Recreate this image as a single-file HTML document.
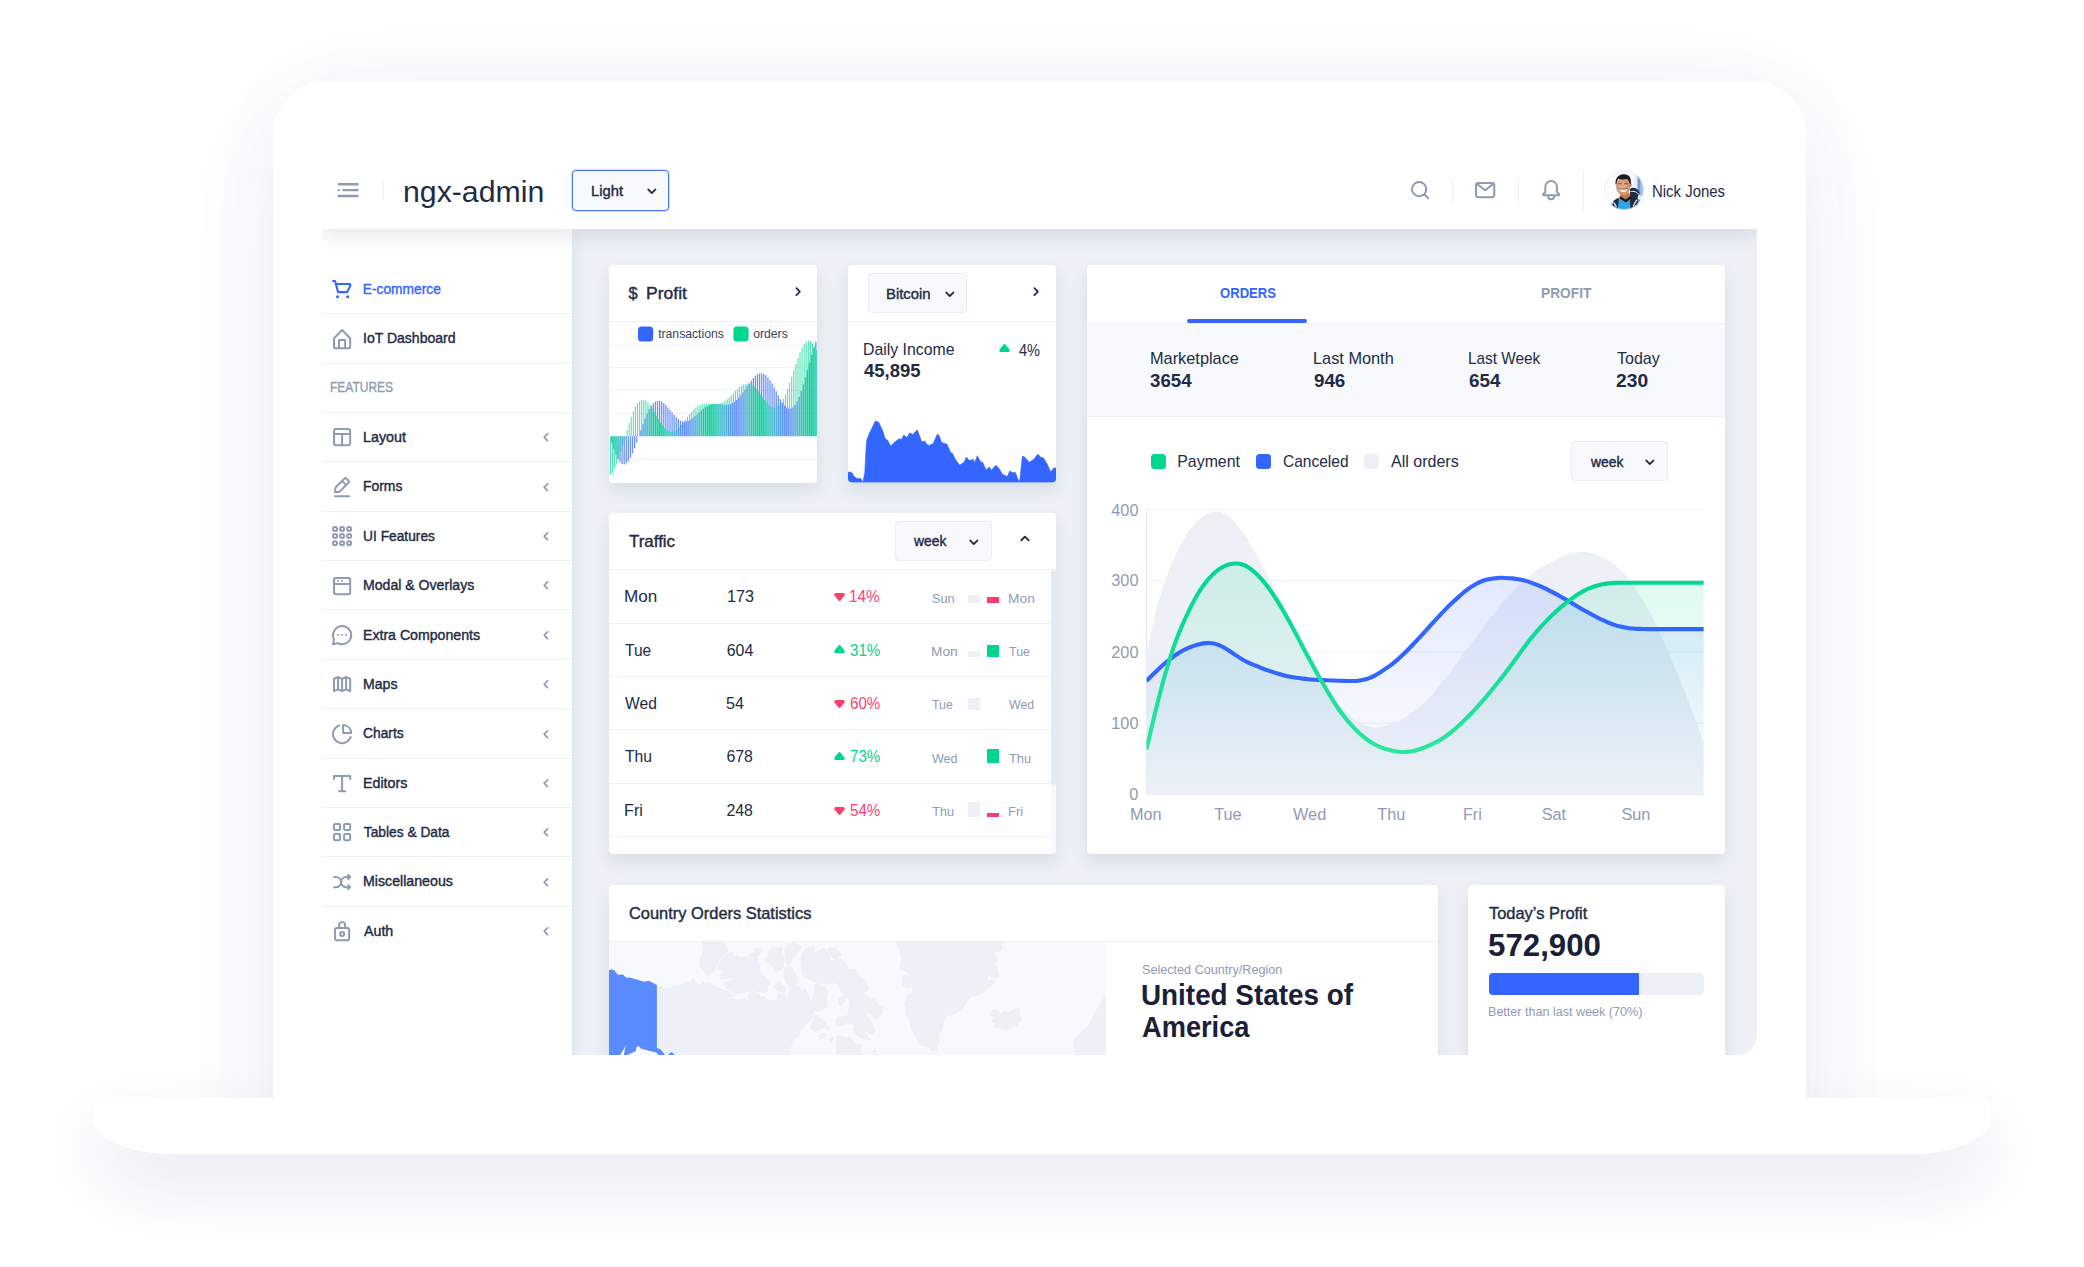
<!DOCTYPE html>
<html lang="en"><head><meta charset="utf-8"><title>ngx-admin</title>
<style>

*{box-sizing:border-box;margin:0;padding:0}
html,body{width:2084px;height:1267px;overflow:hidden;background:#fff}
body{font-family:'Liberation Sans',sans-serif;color:#222b45}
#page{position:relative;width:2084px;height:1267px;overflow:hidden;background:#fff}
#page div,#page span,#page svg{position:absolute}
.t{white-space:pre;line-height:1;font-family:'Liberation Sans',sans-serif;transform-origin:0 0}
#lidw{left:0;top:0;width:2084px;height:1267px;clip-path:inset(0 0 169px 0)}
#lid{left:273px;top:81px;width:1533px;height:1180px;background:#fff;border-radius:54px 54px 0 0;box-shadow:0 0 100px 0 rgba(60,73,138,.052),0 40px 100px 0 rgba(60,73,138,.06)}
#base,#base2{left:94px;top:1098px;width:1896px;height:56px;background:#fff;border-radius:3px 3px 80px 80px / 3px 3px 34px 34px}
#base{box-shadow:0 30px 70px 0 rgba(60,73,138,.134)}
#screen{left:0;top:0;width:2084px;height:1267px;clip-path:inset(140px 327px 212px 322px round 0 0 20px 0)}
#content{left:572px;top:229px;width:1186px;height:830px;background:#edf1f7}
#sidebar{left:322px;top:229px;width:250px;height:830px;background:#fff;box-shadow:0 8px 16px 0 rgba(44,51,73,.1)}
#header{left:322px;top:140px;width:1436px;height:89px;background:#fff;box-shadow:0 8px 16px 0 rgba(44,51,73,.1)}
.card{background:#fff;border-radius:4px;box-shadow:0 8px 16px 0 rgba(44,51,73,.1)}
.hl{height:1px;background:#edf1f7}
.sel{background:#f7f9fc;border:1px solid #e9edf5;border-radius:4px}
.sq{width:15px;height:15px;border-radius:3.5px}

</style></head>
<body>
<div id="page">
<div id="base"></div>
<div id="lidw"><div id="lid"></div></div>
<div id="base2"></div>
<div id="screen">
<div id="content"></div>
<div id="sidebar"></div>
<div class="hl" style="left:322px;top:313px;width:250px"></div>
<svg viewBox="0 0 24 24" width="24.20" height="24.20" style="left:330.30px;top:277.30px;color:#3366ff" fill="currentColor"><path d="M21.08 7a2 2 0 0 0-1.7-1H6.58L6 3.74A1 1 0 0 0 5 3H3a1 1 0 0 0 0 2h1.24L7 15.26A1 1 0 0 0 8 16h9a1 1 0 0 0 .89-.55l3.28-6.56A2 2 0 0 0 21.08 7zm-4.7 7H8.76L7.13 8h12.25z"/><circle cx="7.5" cy="19.5" r="1.5"/><circle cx="17.5" cy="19.5" r="1.5"/></svg>
<div class="hl" style="left:322px;top:363px;width:250px"></div>
<svg viewBox="0 0 24 24" width="24.20" height="24.20" style="left:330.30px;top:326.67px;color:#8f9bb3" fill="currentColor"><path d="M20.42 10.18L12.71 2.3a1 1 0 0 0-1.42 0l-7.71 7.89A2 2 0 0 0 3 11.62V20a2 2 0 0 0 1.89 2h14.22A2 2 0 0 0 21 20v-8.38a2.07 2.07 0 0 0-.58-1.44zM10 20v-6h4v6zm9 0h-3v-7a1 1 0 0 0-1-1H9a1 1 0 0 0-1 1v7H5v-8.42l7-7.15 7 7.19z"/></svg>
<div class="hl" style="left:322px;top:412px;width:250px"></div>
<div class="hl" style="left:322px;top:461px;width:250px"></div>
<svg viewBox="0 0 24 24" width="24.20" height="24.20" style="left:330.30px;top:425.41px;color:#8f9bb3" fill="currentColor"><path d="M18 3H6a3 3 0 0 0-3 3v12a3 3 0 0 0 3 3h12a3 3 0 0 0 3-3V6a3 3 0 0 0-3-3zM6 5h12a1 1 0 0 1 1 1v2H5V6a1 1 0 0 1 1-1zM5 18v-8h6v9H6a1 1 0 0 1-1-1zm13 1h-5v-9h6v8a1 1 0 0 1-1 1z"/></svg>
<svg viewBox="0 0 24 24" width="20.50" height="20.50" style="left:536.15px;top:427.36px;color:#8f9bb3" fill="currentColor"><path d="M13.36 17a1 1 0 0 1-.72-.31l-3.86-4a1 1 0 0 1 0-1.4l4-4a1 1 0 1 1 1.42 1.42L10.9 12l3.18 3.3a1 1 0 0 1 0 1.41 1 1 0 0 1-.72.29z"/></svg>
<div class="hl" style="left:322px;top:511px;width:250px"></div>
<svg viewBox="0 0 24 24" width="24.20" height="24.20" style="left:330.30px;top:474.78px;color:#8f9bb3" fill="currentColor"><path d="M19 20H5a1 1 0 0 0 0 2h14a1 1 0 0 0 0-2z"/><path d="M5 18h.09l4.17-.38a2 2 0 0 0 1.21-.57l9-9a1.92 1.92 0 0 0-.07-2.71L16.66 2.6A2 2 0 0 0 14 2.53l-9 9a2 2 0 0 0-.57 1.21L4 16.91a1 1 0 0 0 .29.8A1 1 0 0 0 5 18zM15.27 4L18 6.73l-2 1.95L13.32 6zm-8.9 8.91L12 7.32l2.7 2.7-5.6 5.6-3 .28z"/></svg>
<svg viewBox="0 0 24 24" width="20.50" height="20.50" style="left:536.15px;top:476.73px;color:#8f9bb3" fill="currentColor"><path d="M13.36 17a1 1 0 0 1-.72-.31l-3.86-4a1 1 0 0 1 0-1.4l4-4a1 1 0 1 1 1.42 1.42L10.9 12l3.18 3.3a1 1 0 0 1 0 1.41 1 1 0 0 1-.72.29z"/></svg>
<div class="hl" style="left:322px;top:560px;width:250px"></div>
<svg viewBox="0 0 24 24" width="24.20" height="24.20" style="left:330.30px;top:524.15px;color:#8f9bb3" fill="currentColor"><circle cx="5" cy="5" r="2" fill="none" stroke="currentColor" stroke-width="2"/><circle cx="12" cy="5" r="2" fill="none" stroke="currentColor" stroke-width="2"/><circle cx="19" cy="5" r="2" fill="none" stroke="currentColor" stroke-width="2"/><circle cx="5" cy="12" r="2" fill="none" stroke="currentColor" stroke-width="2"/><circle cx="12" cy="12" r="2" fill="none" stroke="currentColor" stroke-width="2"/><circle cx="19" cy="12" r="2" fill="none" stroke="currentColor" stroke-width="2"/><circle cx="5" cy="19" r="2" fill="none" stroke="currentColor" stroke-width="2"/><circle cx="12" cy="19" r="2" fill="none" stroke="currentColor" stroke-width="2"/><circle cx="19" cy="19" r="2" fill="none" stroke="currentColor" stroke-width="2"/></svg>
<svg viewBox="0 0 24 24" width="20.50" height="20.50" style="left:536.15px;top:526.10px;color:#8f9bb3" fill="currentColor"><path d="M13.36 17a1 1 0 0 1-.72-.31l-3.86-4a1 1 0 0 1 0-1.4l4-4a1 1 0 1 1 1.42 1.42L10.9 12l3.18 3.3a1 1 0 0 1 0 1.41 1 1 0 0 1-.72.29z"/></svg>
<div class="hl" style="left:322px;top:609px;width:250px"></div>
<svg viewBox="0 0 24 24" width="24.20" height="24.20" style="left:330.30px;top:573.52px;color:#8f9bb3" fill="currentColor"><path d="M18 3H6a3 3 0 0 0-3 3v12a3 3 0 0 0 3 3h12a3 3 0 0 0 3-3V6a3 3 0 0 0-3-3zm1 15a1 1 0 0 1-1 1H6a1 1 0 0 1-1-1v-7h14zm0-9H5V6a1 1 0 0 1 1-1h12a1 1 0 0 1 1 1z"/><circle cx="8" cy="7" r="1"/><circle cx="12" cy="7" r="1"/></svg>
<svg viewBox="0 0 24 24" width="20.50" height="20.50" style="left:536.15px;top:575.47px;color:#8f9bb3" fill="currentColor"><path d="M13.36 17a1 1 0 0 1-.72-.31l-3.86-4a1 1 0 0 1 0-1.4l4-4a1 1 0 1 1 1.42 1.42L10.9 12l3.18 3.3a1 1 0 0 1 0 1.41 1 1 0 0 1-.72.29z"/></svg>
<div class="hl" style="left:322px;top:659px;width:250px"></div>
<svg viewBox="0 0 24 24" width="24.20" height="24.20" style="left:330.30px;top:622.89px;color:#8f9bb3" fill="currentColor"><circle cx="12" cy="12" r="1"/><circle cx="16" cy="12" r="1"/><circle cx="8" cy="12" r="1"/><path d="M19.07 4.93a10 10 0 0 0-16.28 11 1.06 1.06 0 0 1 .09.64L2 20.8a1 1 0 0 0 .27.91A1 1 0 0 0 3 22h.2l4.28-.86a1.26 1.26 0 0 1 .64.09 10 10 0 0 0 11-16.28zm.83 8.36a8 8 0 0 1-11 6.08 3.26 3.26 0 0 0-1.25-.26 3.43 3.43 0 0 0-.56.05l-2.82.57.57-2.82a3.09 3.09 0 0 0-.21-1.81 8 8 0 0 1 6.08-11 8 8 0 0 1 9.19 9.19z"/></svg>
<svg viewBox="0 0 24 24" width="20.50" height="20.50" style="left:536.15px;top:624.84px;color:#8f9bb3" fill="currentColor"><path d="M13.36 17a1 1 0 0 1-.72-.31l-3.86-4a1 1 0 0 1 0-1.4l4-4a1 1 0 1 1 1.42 1.42L10.9 12l3.18 3.3a1 1 0 0 1 0 1.41 1 1 0 0 1-.72.29z"/></svg>
<div class="hl" style="left:322px;top:708px;width:250px"></div>
<svg viewBox="0 0 24 24" width="24.20" height="24.20" style="left:330.30px;top:672.26px;color:#8f9bb3" fill="currentColor"><path d="M20.41 5.89l-4-1.8H15.59L12 5.7 8.41 4.09h-.05L8.24 4h-.6l-4 1.8a1 1 0 0 0-.64 1V19a1 1 0 0 0 .46.84A1 1 0 0 0 4 20a1 1 0 0 0 .41-.09L8 18.3l3.59 1.61h.05a.85.85 0 0 0 .72 0h.05L16 18.3l3.59 1.61A1 1 0 0 0 20 20a1 1 0 0 0 .54-.16A1 1 0 0 0 21 19V6.8a1 1 0 0 0-.59-.91zM5 7.44l2-.89v10l-2 .89zm4-.89l2 .89v10l-2-.89zm4 .89l2-.89v10l-2 .89zm6 10l-2-.89v-10l2 .89z"/></svg>
<svg viewBox="0 0 24 24" width="20.50" height="20.50" style="left:536.15px;top:674.21px;color:#8f9bb3" fill="currentColor"><path d="M13.36 17a1 1 0 0 1-.72-.31l-3.86-4a1 1 0 0 1 0-1.4l4-4a1 1 0 1 1 1.42 1.42L10.9 12l3.18 3.3a1 1 0 0 1 0 1.41 1 1 0 0 1-.72.29z"/></svg>
<div class="hl" style="left:322px;top:758px;width:250px"></div>
<svg viewBox="0 0 24 24" width="24.20" height="24.20" style="left:330.30px;top:721.63px;color:#8f9bb3" fill="currentColor"><path d="M13 2a1 1 0 0 0-1 1v8a1 1 0 0 0 1 1h8a1 1 0 0 0 1-1 9 9 0 0 0-9-9zm1 8V4.07A7 7 0 0 1 19.93 10z"/><path d="M20.82 14.06a1 1 0 0 0-1.28.61A8 8 0 1 1 9.33 4.46a1 1 0 0 0-.66-1.89 10 10 0 1 0 12.76 12.76 1 1 0 0 0-.61-1.27z"/></svg>
<svg viewBox="0 0 24 24" width="20.50" height="20.50" style="left:536.15px;top:723.58px;color:#8f9bb3" fill="currentColor"><path d="M13.36 17a1 1 0 0 1-.72-.31l-3.86-4a1 1 0 0 1 0-1.4l4-4a1 1 0 1 1 1.42 1.42L10.9 12l3.18 3.3a1 1 0 0 1 0 1.41 1 1 0 0 1-.72.29z"/></svg>
<div class="hl" style="left:322px;top:807px;width:250px"></div>
<svg viewBox="0 0 24 24" width="24.20" height="24.20" style="left:330.30px;top:771.00px;color:#8f9bb3" fill="currentColor"><path d="M20 4H4a1 1 0 0 0-1 1v3a1 1 0 0 0 2 0V6h6v13H9a1 1 0 0 0 0 2h6a1 1 0 0 0 0-2h-2V6h6v2a1 1 0 0 0 2 0V5a1 1 0 0 0-1-1z"/></svg>
<svg viewBox="0 0 24 24" width="20.50" height="20.50" style="left:536.15px;top:772.95px;color:#8f9bb3" fill="currentColor"><path d="M13.36 17a1 1 0 0 1-.72-.31l-3.86-4a1 1 0 0 1 0-1.4l4-4a1 1 0 1 1 1.42 1.42L10.9 12l3.18 3.3a1 1 0 0 1 0 1.41 1 1 0 0 1-.72.29z"/></svg>
<div class="hl" style="left:322px;top:856px;width:250px"></div>
<svg viewBox="0 0 24 24" width="24.20" height="24.20" style="left:330.30px;top:820.37px;color:#8f9bb3" fill="currentColor"><path d="M9 3H5a2 2 0 0 0-2 2v4a2 2 0 0 0 2 2h4a2 2 0 0 0 2-2V5a2 2 0 0 0-2-2zM5 9V5h4v4zM19 3h-4a2 2 0 0 0-2 2v4a2 2 0 0 0 2 2h4a2 2 0 0 0 2-2V5a2 2 0 0 0-2-2zm-4 6V5h4v4zM9 13H5a2 2 0 0 0-2 2v4a2 2 0 0 0 2 2h4a2 2 0 0 0 2-2v-4a2 2 0 0 0-2-2zm-4 6v-4h4v4zM19 13h-4a2 2 0 0 0-2 2v4a2 2 0 0 0 2 2h4a2 2 0 0 0 2-2v-4a2 2 0 0 0-2-2zm-4 6v-4h4v4z"/></svg>
<svg viewBox="0 0 24 24" width="20.50" height="20.50" style="left:536.15px;top:822.32px;color:#8f9bb3" fill="currentColor"><path d="M13.36 17a1 1 0 0 1-.72-.31l-3.86-4a1 1 0 0 1 0-1.4l4-4a1 1 0 1 1 1.42 1.42L10.9 12l3.18 3.3a1 1 0 0 1 0 1.41 1 1 0 0 1-.72.29z"/></svg>
<div class="hl" style="left:322px;top:906px;width:250px"></div>
<svg viewBox="0 0 24 24" width="24.20" height="24.20" style="left:330.30px;top:869.74px;color:#8f9bb3" fill="currentColor"><path d="M18.71 14.29a1 1 0 0 0-1.42 1.42l.29.29H16a4 4 0 0 1 0-8h1.59l-.3.29a1 1 0 0 0 0 1.42A1 1 0 0 0 18 10a1 1 0 0 0 .71-.29l2-2A1 1 0 0 0 21 7a1 1 0 0 0-.29-.71l-2-2a1 1 0 0 0-1.42 1.42l.29.29H16a6 6 0 0 0-5 2.69A6 6 0 0 0 6 6H4a1 1 0 0 0 0 2h2a4 4 0 0 1 0 8H4a1 1 0 0 0 0 2h2a6 6 0 0 0 5-2.69A6 6 0 0 0 16 18h1.59l-.3.29a1 1 0 0 0 0 1.42A1 1 0 0 0 18 20a1 1 0 0 0 .71-.29l2-2A1 1 0 0 0 21 17a1 1 0 0 0-.29-.71z"/></svg>
<svg viewBox="0 0 24 24" width="20.50" height="20.50" style="left:536.15px;top:871.69px;color:#8f9bb3" fill="currentColor"><path d="M13.36 17a1 1 0 0 1-.72-.31l-3.86-4a1 1 0 0 1 0-1.4l4-4a1 1 0 1 1 1.42 1.42L10.9 12l3.18 3.3a1 1 0 0 1 0 1.41 1 1 0 0 1-.72.29z"/></svg>
<svg viewBox="0 0 24 24" width="24.20" height="24.20" style="left:330.30px;top:919.11px;color:#8f9bb3" fill="currentColor"><path d="M17 8h-1V6.11a4 4 0 1 0-8 0V8H7a3 3 0 0 0-3 3v8a3 3 0 0 0 3 3h10a3 3 0 0 0 3-3v-8a3 3 0 0 0-3-3zm-7-1.89A2.06 2.06 0 0 1 12 4a2.06 2.06 0 0 1 2 2.11V8h-4zM18 19a1 1 0 0 1-1 1H7a1 1 0 0 1-1-1v-8a1 1 0 0 1 1-1h10a1 1 0 0 1 1 1z"/><path d="M12 12a3 3 0 1 0 3 3 3 3 0 0 0-3-3zm0 4a1 1 0 1 1 1-1 1 1 0 0 1-1 1z"/></svg>
<svg viewBox="0 0 24 24" width="20.50" height="20.50" style="left:536.15px;top:921.06px;color:#8f9bb3" fill="currentColor"><path d="M13.36 17a1 1 0 0 1-.72-.31l-3.86-4a1 1 0 0 1 0-1.4l4-4a1 1 0 1 1 1.42 1.42L10.9 12l3.18 3.3a1 1 0 0 1 0 1.41 1 1 0 0 1-.72.29z"/></svg>
<div class="card" style="left:609.0px;top:265.0px;width:208.0px;height:217.6px;"></div>
<div class="hl" style="left:609px;top:321px;width:208px"></div>
<div class="card" style="left:848.0px;top:265.0px;width:208.0px;height:217.6px;"></div>
<div class="hl" style="left:848px;top:321px;width:208px"></div>
<div class="sel" style="left:868px;top:273px;width:99px;height:40px"></div>
<div class="card" style="left:609.0px;top:513.0px;width:447.0px;height:341.0px;"></div>
<div class="hl" style="left:609px;top:569px;width:447px"></div>
<div class="sel" style="left:895px;top:521px;width:97px;height:40px"></div>
<div class="hl" style="left:609px;top:623px;width:442px"></div>
<div class="hl" style="left:609px;top:676px;width:442px"></div>
<div class="hl" style="left:609px;top:729px;width:442px"></div>
<div class="hl" style="left:609px;top:783px;width:442px"></div>
<div class="hl" style="left:609px;top:836px;width:442px"></div>
<div style="left:1051px;top:570px;width:5px;height:284px;background:#f7f9fc;border-radius:0 0 4px 0"></div>
<div style="left:1051px;top:570px;width:5px;height:215px;background:#e4e9f2;border-radius:2.5px"></div>
<div class="card" style="left:1086.5px;top:265.0px;width:638.0px;height:589.0px;"></div>
<div style="left:1086.5px;top:323px;width:638px;height:94px;background:#f7f9fc;border-top:1px solid #edf1f7;border-bottom:1px solid #edf1f7"></div>
<div style="left:1187.4px;top:319.3px;width:120px;height:4px;background:#3366ff;border-radius:2px"></div>
<div class="sel" style="left:1571px;top:441px;width:97px;height:40px"></div>
<div class="sq" style="left:1151px;top:454px;background:#00d68f"></div>
<div class="sq" style="left:1256px;top:454px;background:#3366ff"></div>
<div class="sq" style="left:1364px;top:454px;background:#edf1f7"></div>
<div class="card" style="left:609.0px;top:884.7px;width:829.0px;height:215.3px;"></div>
<div class="hl" style="left:609px;top:941px;width:829px"></div>
<div class="card" style="left:1468.0px;top:884.7px;width:256.5px;height:215.3px;"></div>
<div style="left:1489px;top:973.4px;width:215px;height:21.7px;background:#edf1f7;border-radius:4px"></div>
<div style="left:1489px;top:973.4px;width:150.3px;height:21.7px;background:#3366ff;border-radius:4px 0 0 4px"></div>
<svg viewBox="0 0 24 24" width="21.30" height="21.30" style="left:786.95px;top:280.75px;color:#222b45" fill="currentColor"><path d="M10.5 17a1 1 0 0 1-.71-.29 1 1 0 0 1 0-1.42L13.1 12 9.92 8.69a1 1 0 0 1 0-1.41 1 1 0 0 1 1.42 0l3.86 4a1 1 0 0 1 0 1.4l-4 4a1 1 0 0 1-.7.32z"/></svg>
<svg viewBox="0 0 24 24" width="21.30" height="21.30" style="left:1025.15px;top:280.75px;color:#222b45" fill="currentColor"><path d="M10.5 17a1 1 0 0 1-.71-.29 1 1 0 0 1 0-1.42L13.1 12 9.92 8.69a1 1 0 0 1 0-1.41 1 1 0 0 1 1.42 0l3.86 4a1 1 0 0 1 0 1.4l-4 4a1 1 0 0 1-.7.32z"/></svg>
<svg viewBox="0 0 24 24" width="21.50" height="21.50" style="left:938.75px;top:282.65px;color:#222b45" fill="currentColor"><path d="M12 15.5a1 1 0 0 1-.71-.29l-4-4a1 1 0 1 1 1.42-1.42L12 13.1l3.3-3.18a1 1 0 1 1 1.38 1.44l-4 3.86a1 1 0 0 1-.68.28z"/></svg>
<svg viewBox="0 0 24 24" width="21.50" height="21.50" style="left:962.85px;top:530.55px;color:#222b45" fill="currentColor"><path d="M12 15.5a1 1 0 0 1-.71-.29l-4-4a1 1 0 1 1 1.42-1.42L12 13.1l3.3-3.18a1 1 0 1 1 1.38 1.44l-4 3.86a1 1 0 0 1-.68.28z"/></svg>
<svg viewBox="0 0 24 24" width="21.50" height="21.50" style="left:1639.35px;top:451.05px;color:#222b45" fill="currentColor"><path d="M12 15.5a1 1 0 0 1-.71-.29l-4-4a1 1 0 1 1 1.42-1.42L12 13.1l3.3-3.18a1 1 0 1 1 1.38 1.44l-4 3.86a1 1 0 0 1-.68.28z"/></svg>
<svg viewBox="0 0 24 24" width="22.00" height="22.00" style="left:1014.40px;top:528.30px;color:#222b45" fill="currentColor"><path d="M16 14.5a1 1 0 0 1-.71-.29L12 10.9l-3.3 3.18a1 1 0 0 1-1.41 0 1 1 0 0 1 0-1.42l4-3.86a1 1 0 0 1 1.4 0l4 4a1 1 0 0 1 0 1.42 1 1 0 0 1-.69.28z"/></svg>
<svg viewBox="0 0 24 24" width="21.00" height="21.00" style="left:993.60px;top:338.40px;color:#00d68f" fill="currentColor"><path d="M16.21 16H7.79a1.76 1.76 0 0 1-1.59-1 2.1 2.1 0 0 1 .26-2.21l4.21-5.1a1.76 1.76 0 0 1 2.66 0l4.21 5.1A2.1 2.1 0 0 1 17.8 15a1.76 1.76 0 0 1-1.59 1z"/></svg>
<svg viewBox="0 0 24 24" width="21.00" height="21.00" style="left:828.80px;top:586.10px;color:#ff3d71" fill="currentColor"><path d="M12 17a1.72 1.72 0 0 1-1.33-.64l-4.21-5.1a2.1 2.1 0 0 1-.26-2.21A1.76 1.76 0 0 1 7.79 8h8.42a1.76 1.76 0 0 1 1.59 1.05 2.1 2.1 0 0 1-.26 2.21l-4.21 5.1A1.72 1.72 0 0 1 12 17z"/></svg>
<svg viewBox="0 0 24 24" width="21.00" height="21.00" style="left:828.80px;top:639.48px;color:#00d68f" fill="currentColor"><path d="M16.21 16H7.79a1.76 1.76 0 0 1-1.59-1 2.1 2.1 0 0 1 .26-2.21l4.21-5.1a1.76 1.76 0 0 1 2.66 0l4.21 5.1A2.1 2.1 0 0 1 17.8 15a1.76 1.76 0 0 1-1.59 1z"/></svg>
<svg viewBox="0 0 24 24" width="21.00" height="21.00" style="left:828.80px;top:692.86px;color:#ff3d71" fill="currentColor"><path d="M12 17a1.72 1.72 0 0 1-1.33-.64l-4.21-5.1a2.1 2.1 0 0 1-.26-2.21A1.76 1.76 0 0 1 7.79 8h8.42a1.76 1.76 0 0 1 1.59 1.05 2.1 2.1 0 0 1-.26 2.21l-4.21 5.1A1.72 1.72 0 0 1 12 17z"/></svg>
<svg viewBox="0 0 24 24" width="21.00" height="21.00" style="left:828.80px;top:746.24px;color:#00d68f" fill="currentColor"><path d="M16.21 16H7.79a1.76 1.76 0 0 1-1.59-1 2.1 2.1 0 0 1 .26-2.21l4.21-5.1a1.76 1.76 0 0 1 2.66 0l4.21 5.1A2.1 2.1 0 0 1 17.8 15a1.76 1.76 0 0 1-1.59 1z"/></svg>
<svg viewBox="0 0 24 24" width="21.00" height="21.00" style="left:828.80px;top:799.62px;color:#ff3d71" fill="currentColor"><path d="M12 17a1.72 1.72 0 0 1-1.33-.64l-4.21-5.1a2.1 2.1 0 0 1-.26-2.21A1.76 1.76 0 0 1 7.79 8h8.42a1.76 1.76 0 0 1 1.59 1.05 2.1 2.1 0 0 1-.26 2.21l-4.21 5.1A1.72 1.72 0 0 1 12 17z"/></svg>
<div style="left:968px;top:594.9px;width:11.5px;height:8.5px;background:#edf1f7"></div>
<div style="left:987.4px;top:597.3px;width:11.4px;height:6.1px;background:#ff3d71"></div>
<div style="left:968px;top:650.7px;width:11.5px;height:5.9px;background:#edf1f7"></div>
<div style="left:987.4px;top:644.9px;width:11.4px;height:11.7px;background:#00d68f"></div>
<div style="left:968px;top:698.1px;width:11.5px;height:11.6px;background:#edf1f7"></div>
<div style="left:987.4px;top:749.2px;width:11.4px;height:14.2px;background:#00d68f"></div>
<div style="left:968px;top:802.2px;width:11.5px;height:14.5px;background:#edf1f7"></div>
<div style="left:987.4px;top:813.0px;width:11.4px;height:3.7px;background:#ff3d71"></div>
<svg width="2084" height="1267" viewBox="0 0 2084 1267" style="left:0;top:0">
<defs>
<linearGradient id="gB" x1="0" y1="0" x2="0" y2="1"><stop offset="0" stop-color="#3366ff" stop-opacity=".14"/><stop offset="1" stop-color="#3366ff" stop-opacity="0"/></linearGradient>
<linearGradient id="gG" x1="0" y1="0" x2="0" y2="1"><stop offset="0" stop-color="#00d68f" stop-opacity=".135"/><stop offset="1" stop-color="#00d68f" stop-opacity="0"/></linearGradient>
<linearGradient id="gGl" gradientUnits="userSpaceOnUse" x1="0" y1="563" x2="0" y2="753"><stop offset="0" stop-color="#00d68f"/><stop offset="1" stop-color="#2ce69b"/></linearGradient>
<clipPath id="cBit"><rect x="848" y="265" width="208" height="217.6" rx="4"/></clipPath>
<clipPath id="cPro"><rect x="609" y="265" width="208" height="217.6" rx="4"/></clipPath>
<clipPath id="cOrd"><rect x="1146.4" y="500" width="557.4" height="294.5"/></clipPath>
</defs>
<g clip-path="url(#cPro)">
<rect x="609" y="344.8" width="208" height="1" fill="#edf1f7"/>
<rect x="609" y="367.1" width="208" height="1" fill="#edf1f7"/>
<rect x="609" y="389.9" width="208" height="1" fill="#edf1f7"/>
<rect x="609" y="412.7" width="208" height="1" fill="#edf1f7"/>
<rect x="609" y="458.8" width="208" height="1" fill="#edf1f7"/>
<path d="M609.62 436.20v0.00M611.70 436.20v6.88M613.79 436.20v13.16M615.87 436.20v18.58M617.95 436.20v22.93M620.04 436.20v26.05M622.12 436.20v27.84M624.20 436.20v28.25M626.29 436.20v27.30M628.37 436.20v25.07M630.45 436.20v21.67M632.53 436.20v17.29M634.62 436.20v12.11M636.70 436.20v6.37M638.78 436.20v0.30M640.87 430.36v5.84M642.95 424.36v11.84M645.03 418.73v17.47M647.12 413.66v22.54M649.20 409.30v26.90M651.28 405.77v30.43M653.36 403.13v33.07M655.45 401.43v34.77M657.53 400.64v35.56M659.61 400.72v35.48M661.70 401.56v34.64M663.78 403.06v33.14M665.86 405.07v31.13M667.95 407.43v28.77M670.03 409.98v26.22M672.11 412.56v23.64M674.19 415.01v21.19M676.28 417.21v18.99M678.36 419.04v17.16M680.44 420.41v15.79M682.53 421.27v14.93M684.61 421.60v14.60M686.69 421.40v14.80M688.78 420.70v15.50M690.86 419.57v16.63M692.94 418.08v18.12M695.02 416.33v19.87M697.11 414.43v21.77M699.19 412.47v23.73M701.27 410.57v25.63M703.36 408.81v27.39M705.44 407.26v28.94M707.52 405.98v30.22M709.61 405.01v31.19M711.69 404.35v31.85M713.77 403.99v32.21M715.85 403.89v32.31M717.94 403.98v32.22M720.02 404.20v32.00M722.10 404.45v31.75M724.19 404.64v31.56M726.27 404.67v31.53M728.35 404.46v31.74M730.44 403.93v32.27M732.52 403.02v33.18M734.60 401.70v34.50M736.68 399.95v36.25M738.77 397.80v38.40M740.85 395.28v40.92M742.93 392.47v43.73M745.02 389.46v46.74M747.10 386.36v49.84M749.18 383.31v52.89M751.27 380.44v55.76M753.35 377.89v58.31M755.43 375.79v60.41M757.51 374.26v61.94M759.60 373.40v62.80M761.68 373.27v62.93M763.76 373.91v62.29M765.85 375.32v60.88M767.93 377.47v58.73M770.01 380.27v55.93M772.10 383.62v52.58M774.18 387.37v48.83M776.26 391.34v44.86M778.34 395.34v40.86M780.43 399.16v37.04M782.51 402.59v33.61M784.59 405.42v30.78M786.68 407.46v28.74M788.76 408.54v27.66M790.84 408.55v27.65M792.93 407.38v28.82M795.01 405.01v31.19M797.09 401.45v34.75M799.17 396.75v39.45M801.26 391.05v45.15M803.34 384.50v51.70M805.42 377.33v58.87M807.51 369.79v66.41M809.59 362.15v74.05M811.67 354.71v81.49M813.76 347.77v88.43M815.84 341.61v94.59" stroke="#3366ff" stroke-width="1.25" fill="none" opacity=".73"/>
<path d="M610.46 436.20v38.65M612.54 436.20v36.48M614.63 436.20v32.89M616.71 436.20v28.05M618.79 436.20v22.20M620.88 436.20v15.57M622.96 436.20v8.46M625.04 436.20v1.14M627.13 430.10v6.10M629.21 423.20v13.00M631.29 416.89v19.31M633.37 411.37v24.83M635.46 406.81v29.39M637.54 403.32v32.88M639.62 400.96v35.24M641.71 399.75v36.45M643.79 399.66v36.54M645.87 400.59v35.61M647.96 402.42v33.78M650.04 405.01v31.19M652.12 408.16v28.04M654.20 411.68v24.52M656.29 415.38v20.82M658.37 419.04v17.16M660.45 422.50v13.70M662.54 425.58v10.62M664.62 428.14v8.06M666.70 430.09v6.11M668.79 431.35v4.85M670.87 431.89v4.31M672.95 431.72v4.48M675.03 430.87v5.33M677.12 429.41v6.79M679.20 427.43v8.77M681.28 425.05v11.15M683.37 422.40v13.80M685.45 419.59v16.61M687.53 416.77v19.43M689.62 414.05v22.15M691.70 411.54v24.66M693.78 409.31v26.89M695.86 407.43v28.77M697.95 405.93v30.27M700.03 404.83v31.37M702.11 404.09v32.11M704.20 403.69v32.51M706.28 403.55v32.65M708.36 403.61v32.59M710.45 403.76v32.44M712.53 403.92v32.28M714.61 403.99v32.21M716.69 403.90v32.30M718.78 403.57v32.63M720.86 402.95v33.25M722.94 402.02v34.18M725.03 400.75v35.45M727.11 399.19v37.01M729.19 397.35v38.85M731.28 395.32v40.88M733.36 393.18v43.02M735.44 391.03v45.17M737.52 388.97v47.23M739.61 387.11v49.09M741.69 385.57v50.63M743.77 384.45v51.75M745.86 383.81v52.39M747.94 383.72v52.48M750.02 384.21v51.99M752.11 385.28v50.92M754.19 386.89v49.31M756.27 388.99v47.21M758.35 391.48v44.72M760.44 394.24v41.96M762.52 397.11v39.09M764.60 399.95v36.25M766.69 402.57v33.63M768.77 404.80v31.40M770.85 406.49v29.71M772.94 407.47v28.73M775.02 407.63v28.57M777.10 406.87v29.33M779.18 405.14v31.06M781.27 402.42v33.78M783.35 398.75v37.45M785.43 394.20v42.00M787.52 388.89v47.31M789.60 382.99v53.21M791.68 376.70v59.50M793.77 370.24v65.96M795.85 363.86v72.34M797.93 357.81v78.39M800.01 352.34v83.86M802.10 347.70v88.50M804.18 344.08v92.12M806.26 341.68v94.52M808.35 340.61v95.59M810.43 340.96v95.24M812.51 342.75v93.45M814.60 345.93v90.27M816.68 350.41v85.79" stroke="#00d68f" stroke-width="1.1" fill="none" opacity=".68"/>
</g>
<rect x="638" y="326.4" width="15.2" height="15.2" rx="3.5" fill="#3366ff"/>
<rect x="733.4" y="326.4" width="15.2" height="15.2" rx="3.5" fill="#00d68f"/>
<polygon clip-path="url(#cBit)" points="847,484 847.6,473.0 849.8,471.8 852.2,473.0 854.0,476.6 857.0,478.6 860.6,478.4 863.0,482.0 864.8,472.4 865.7,454.4 866.6,440.6 869.0,434.0 872.0,428.0 875.3,421.0 878.6,422.0 882.8,431.0 885.2,438.8 887.6,440.2 890.6,446.0 894.8,442.1 899.0,438.8 901.4,439.4 903.8,434.9 906.8,437.6 909.8,432.8 912.8,434.6 917.3,429.8 919.4,435.2 921.8,442.1 924.8,440.9 926.6,444.2 929.0,445.4 933.2,443.6 937.4,434.0 939.2,435.8 941.6,442.4 947.0,444.2 950.6,452.6 952.4,453.2 955.4,459.4 959.6,464.9 963.8,462.5 966.5,457.0 969.2,460.6 973.4,459.4 974.6,462.8 977.3,455.8 980.6,461.8 982.6,462.2 986.0,469.7 989.3,467.0 991.3,470.2 995.8,465.2 999.1,468.5 1002.7,474.8 1005.7,475.4 1006.9,477.2 1009.9,470.9 1012.3,472.6 1015.3,472.4 1018.6,480.8 1019.8,480.2 1022.3,456.2 1024.3,456.8 1029.4,462.2 1033.9,459.2 1037.8,454.1 1040.5,457.0 1043.5,458.0 1047.1,464.0 1050.7,471.8 1054.1,467.8 1056.1,468.2 1057,484" fill="#3366ff" stroke="#3366ff" stroke-width=".6" stroke-linejoin="round"/>
<rect x="1146.4" y="509.5" width="557.4" height="1" fill="#edf1f7"/>
<rect x="1146.4" y="580.2" width="557.4" height="1" fill="#edf1f7"/>
<rect x="1146.4" y="651.4" width="557.4" height="1" fill="#edf1f7"/>
<rect x="1146.4" y="722.5" width="557.4" height="1" fill="#edf1f7"/>
<rect x="1145.9" y="509.5" width="1" height="285" fill="#e4e9f2"/>
<g clip-path="url(#cOrd)">
<path d="M1146.40 654.20C1147.40 649.49 1150.40 634.62 1152.40 625.92C1154.40 617.23 1156.40 609.17 1158.40 602.02C1160.40 594.86 1162.40 588.84 1164.40 582.99C1166.40 577.15 1168.40 571.93 1170.40 566.95C1172.40 561.98 1174.40 557.38 1176.40 553.15C1178.40 548.92 1180.40 545.12 1182.40 541.58C1184.40 538.04 1186.40 534.83 1188.40 531.90C1190.40 528.96 1192.40 526.30 1194.40 523.99C1196.40 521.68 1198.40 519.71 1200.40 518.05C1202.40 516.39 1204.40 515.08 1206.40 514.03C1208.40 512.99 1210.40 512.20 1212.40 511.79C1214.40 511.39 1216.40 511.26 1218.40 511.59C1220.40 511.91 1222.40 512.65 1224.40 513.74C1226.40 514.83 1228.40 516.37 1230.40 518.12C1232.40 519.86 1234.40 521.95 1236.40 524.23C1238.40 526.52 1240.40 529.09 1242.40 531.85C1244.40 534.60 1246.40 537.61 1248.40 540.77C1250.40 543.93 1252.40 547.32 1254.40 550.81C1256.40 554.29 1258.40 558.01 1260.40 561.69C1262.40 565.37 1264.40 569.14 1266.40 572.87C1268.40 576.61 1270.40 580.35 1272.40 584.10C1274.40 587.85 1276.40 591.62 1278.40 595.39C1280.40 599.15 1282.40 602.92 1284.40 606.69C1286.40 610.46 1288.40 614.24 1290.40 618.02C1292.40 621.80 1294.40 625.58 1296.40 629.37C1298.40 633.16 1300.40 636.96 1302.40 640.73C1304.40 644.51 1306.40 648.29 1308.40 652.03C1310.40 655.77 1312.40 659.48 1314.40 663.18C1316.40 666.89 1318.40 670.63 1320.40 674.27C1322.40 677.91 1324.40 681.63 1326.40 685.02C1328.40 688.41 1330.40 691.64 1332.40 694.62C1334.40 697.59 1336.40 700.28 1338.40 702.89C1340.40 705.50 1342.40 708.00 1344.40 710.27C1346.40 712.53 1348.40 714.69 1350.40 716.47C1352.40 718.24 1354.40 719.70 1356.40 720.91C1358.40 722.12 1360.40 722.89 1362.40 723.73C1364.40 724.56 1366.40 725.30 1368.40 725.92C1370.40 726.53 1372.40 727.20 1374.40 727.40C1376.40 727.61 1378.40 727.46 1380.40 727.16C1382.40 726.85 1384.40 726.16 1386.40 725.55C1388.40 724.94 1390.40 724.26 1392.40 723.49C1394.40 722.72 1396.40 721.89 1398.40 720.95C1400.40 720.00 1402.40 718.97 1404.40 717.82C1406.40 716.67 1408.40 715.45 1410.40 714.05C1412.40 712.65 1414.40 711.04 1416.40 709.42C1418.40 707.80 1420.40 706.13 1422.40 704.34C1424.40 702.55 1426.40 700.76 1428.40 698.68C1430.40 696.60 1432.40 694.26 1434.40 691.88C1436.40 689.51 1438.40 686.95 1440.40 684.44C1442.40 681.93 1444.40 679.40 1446.40 676.82C1448.40 674.23 1450.40 671.58 1452.40 668.92C1454.40 666.26 1456.40 663.55 1458.40 660.85C1460.40 658.16 1462.40 655.47 1464.40 652.77C1466.40 650.07 1468.40 647.36 1470.40 644.66C1472.40 641.96 1474.40 639.23 1476.40 636.54C1478.40 633.84 1480.40 631.15 1482.40 628.49C1484.40 625.83 1486.40 623.21 1488.40 620.60C1490.40 617.99 1492.40 615.36 1494.40 612.81C1496.40 610.25 1498.40 607.69 1500.40 605.26C1502.40 602.83 1504.40 600.52 1506.40 598.24C1508.40 595.95 1510.40 593.72 1512.40 591.56C1514.40 589.39 1516.40 587.23 1518.40 585.24C1520.40 583.26 1522.40 581.41 1524.40 579.65C1526.40 577.89 1528.40 576.23 1530.40 574.69C1532.40 573.15 1534.40 571.71 1536.40 570.39C1538.40 569.07 1540.40 567.90 1542.40 566.75C1544.40 565.59 1546.40 564.51 1548.40 563.45C1550.40 562.38 1552.40 561.35 1554.40 560.35C1556.40 559.34 1558.40 558.31 1560.40 557.41C1562.40 556.51 1564.40 555.64 1566.40 554.97C1568.40 554.29 1570.40 553.79 1572.40 553.35C1574.40 552.91 1576.40 552.53 1578.40 552.32C1580.40 552.12 1582.40 552.02 1584.40 552.12C1586.40 552.23 1588.40 552.55 1590.40 552.95C1592.40 553.35 1594.40 553.85 1596.40 554.53C1598.40 555.21 1600.40 556.06 1602.40 557.03C1604.40 558.00 1606.40 559.11 1608.40 560.37C1610.40 561.62 1612.40 562.93 1614.40 564.56C1616.40 566.18 1618.40 568.10 1620.40 570.11C1622.40 572.12 1624.40 574.27 1626.40 576.59C1628.40 578.90 1630.40 581.28 1632.40 584.00C1634.40 586.72 1636.40 589.78 1638.40 592.90C1640.40 596.01 1642.40 599.29 1644.40 602.72C1646.40 606.15 1648.40 609.69 1650.40 613.49C1652.40 617.30 1654.40 621.40 1656.40 625.54C1658.40 629.69 1660.40 633.97 1662.40 638.37C1664.40 642.76 1666.40 647.28 1668.40 651.91C1670.40 656.54 1672.40 661.33 1674.40 666.15C1676.40 670.97 1678.40 675.86 1680.40 680.84C1682.40 685.82 1684.40 690.87 1686.40 696.03C1688.40 701.19 1690.40 706.53 1692.40 711.81C1694.40 717.08 1696.50 722.48 1698.40 727.66C1700.30 732.84 1702.90 740.36 1703.80 742.90L1703.8 794.5L1146.4 794.5Z" fill="#edf1f7"/>
<path d="M1146.40 681.00C1147.40 680.00 1150.40 676.99 1152.40 675.01C1154.40 673.04 1156.40 671.04 1158.40 669.16C1160.40 667.28 1162.40 665.45 1164.40 663.72C1166.40 662.00 1168.40 660.35 1170.40 658.80C1172.40 657.25 1174.40 655.77 1176.40 654.43C1178.40 653.09 1180.40 651.86 1182.40 650.76C1184.40 649.66 1186.40 648.72 1188.40 647.85C1190.40 646.99 1192.40 646.22 1194.40 645.58C1196.40 644.93 1198.40 644.40 1200.40 643.99C1202.40 643.58 1204.40 643.26 1206.40 643.13C1208.40 643.00 1210.40 642.93 1212.40 643.21C1214.40 643.49 1216.40 644.06 1218.40 644.82C1220.40 645.59 1222.40 646.69 1224.40 647.81C1226.40 648.94 1228.40 650.27 1230.40 651.58C1232.40 652.89 1234.40 654.35 1236.40 655.66C1238.40 656.98 1240.40 658.30 1242.40 659.46C1244.40 660.61 1246.40 661.63 1248.40 662.59C1250.40 663.54 1252.40 664.36 1254.40 665.20C1256.40 666.05 1258.40 666.85 1260.40 667.64C1262.40 668.42 1264.40 669.21 1266.40 669.92C1268.40 670.63 1270.40 671.28 1272.40 671.92C1274.40 672.55 1276.40 673.16 1278.40 673.75C1280.40 674.33 1282.40 674.91 1284.40 675.42C1286.40 675.92 1288.40 676.37 1290.40 676.77C1292.40 677.17 1294.40 677.51 1296.40 677.82C1298.40 678.12 1300.40 678.36 1302.40 678.60C1304.40 678.83 1306.40 679.04 1308.40 679.22C1310.40 679.41 1312.40 679.58 1314.40 679.71C1316.40 679.84 1318.40 679.92 1320.40 680.01C1322.40 680.10 1324.40 680.17 1326.40 680.25C1328.40 680.32 1330.40 680.40 1332.40 680.48C1334.40 680.55 1336.40 680.63 1338.40 680.69C1340.40 680.76 1342.40 680.82 1344.40 680.87C1346.40 680.93 1348.40 681.03 1350.40 681.03C1352.40 681.04 1354.40 681.08 1356.40 680.92C1358.40 680.76 1360.40 680.49 1362.40 680.08C1364.40 679.66 1366.40 679.12 1368.40 678.42C1370.40 677.71 1372.40 676.85 1374.40 675.83C1376.40 674.80 1378.40 673.54 1380.40 672.26C1382.40 670.99 1384.40 669.59 1386.40 668.18C1388.40 666.76 1390.40 665.33 1392.40 663.77C1394.40 662.21 1396.40 660.57 1398.40 658.83C1400.40 657.09 1402.40 655.25 1404.40 653.32C1406.40 651.40 1408.40 649.36 1410.40 647.29C1412.40 645.21 1414.40 643.02 1416.40 640.86C1418.40 638.70 1420.40 636.49 1422.40 634.31C1424.40 632.12 1426.40 629.94 1428.40 627.75C1430.40 625.57 1432.40 623.39 1434.40 621.21C1436.40 619.04 1438.40 616.82 1440.40 614.68C1442.40 612.55 1444.40 610.40 1446.40 608.39C1448.40 606.38 1450.40 604.48 1452.40 602.60C1454.40 600.72 1456.40 598.89 1458.40 597.10C1460.40 595.32 1462.40 593.52 1464.40 591.90C1466.40 590.29 1468.40 588.77 1470.40 587.41C1472.40 586.05 1474.40 584.82 1476.40 583.75C1478.40 582.68 1480.40 581.76 1482.40 581.01C1484.40 580.25 1486.40 579.68 1488.40 579.21C1490.40 578.74 1492.40 578.41 1494.40 578.18C1496.40 577.94 1498.40 577.84 1500.40 577.80C1502.40 577.75 1504.40 577.83 1506.40 577.93C1508.40 578.03 1510.40 578.17 1512.40 578.39C1514.40 578.61 1516.40 578.87 1518.40 579.24C1520.40 579.60 1522.40 580.06 1524.40 580.58C1526.40 581.10 1528.40 581.68 1530.40 582.36C1532.40 583.03 1534.40 583.80 1536.40 584.61C1538.40 585.42 1540.40 586.32 1542.40 587.23C1544.40 588.14 1546.40 589.07 1548.40 590.06C1550.40 591.05 1552.40 592.11 1554.40 593.17C1556.40 594.23 1558.40 595.34 1560.40 596.45C1562.40 597.56 1564.40 598.68 1566.40 599.83C1568.40 600.99 1570.40 602.19 1572.40 603.38C1574.40 604.56 1576.40 605.79 1578.40 606.96C1580.40 608.14 1582.40 609.31 1584.40 610.45C1586.40 611.59 1588.40 612.72 1590.40 613.81C1592.40 614.91 1594.40 615.99 1596.40 617.01C1598.40 618.03 1600.40 618.99 1602.40 619.92C1604.40 620.84 1606.40 621.74 1608.40 622.56C1610.40 623.39 1612.40 624.20 1614.40 624.86C1616.40 625.53 1618.40 626.09 1620.40 626.57C1622.40 627.05 1624.40 627.43 1626.40 627.76C1628.40 628.09 1630.40 628.33 1632.40 628.53C1634.40 628.72 1636.40 628.83 1638.40 628.92C1640.40 629.01 1642.40 629.04 1644.40 629.07C1646.40 629.10 1648.40 629.09 1650.40 629.10C1652.40 629.11 1654.40 629.10 1656.40 629.10C1658.40 629.10 1660.40 629.10 1662.40 629.10C1664.40 629.10 1666.40 629.10 1668.40 629.10C1670.40 629.10 1672.40 629.10 1674.40 629.10C1676.40 629.10 1678.40 629.10 1680.40 629.10C1682.40 629.10 1684.40 629.10 1686.40 629.10C1688.40 629.10 1690.40 629.10 1692.40 629.10C1694.40 629.10 1696.50 629.10 1698.40 629.10C1700.30 629.10 1702.90 629.10 1703.80 629.10L1703.8 794.5L1146.4 794.5Z" fill="url(#gB)"/>
<path d="M1146.40 749.50C1147.40 745.29 1150.40 732.54 1152.40 724.21C1154.40 715.88 1156.40 707.40 1158.40 699.54C1160.40 691.68 1162.40 684.12 1164.40 677.03C1166.40 669.94 1168.40 663.26 1170.40 657.02C1172.40 650.78 1174.40 644.94 1176.40 639.59C1178.40 634.23 1180.40 629.51 1182.40 624.88C1184.40 620.25 1186.40 615.97 1188.40 611.81C1190.40 607.64 1192.40 603.57 1194.40 599.90C1196.40 596.23 1198.40 592.84 1200.40 589.78C1202.40 586.71 1204.40 583.99 1206.40 581.50C1208.40 579.01 1210.40 576.82 1212.40 574.85C1214.40 572.87 1216.40 571.15 1218.40 569.68C1220.40 568.21 1222.40 566.98 1224.40 566.04C1226.40 565.10 1228.40 564.46 1230.40 564.04C1232.40 563.63 1234.40 563.46 1236.40 563.55C1238.40 563.63 1240.40 563.91 1242.40 564.55C1244.40 565.20 1246.40 566.18 1248.40 567.42C1250.40 568.67 1252.40 570.29 1254.40 572.04C1256.40 573.79 1258.40 575.77 1260.40 577.94C1262.40 580.10 1264.40 582.47 1266.40 585.03C1268.40 587.60 1270.40 590.39 1272.40 593.32C1274.40 596.25 1276.40 599.36 1278.40 602.61C1280.40 605.85 1282.40 609.28 1284.40 612.79C1286.40 616.29 1288.40 619.94 1290.40 623.61C1292.40 627.29 1294.40 631.05 1296.40 634.82C1298.40 638.59 1300.40 642.44 1302.40 646.23C1304.40 650.02 1306.40 653.84 1308.40 657.56C1310.40 661.28 1312.40 664.96 1314.40 668.56C1316.40 672.16 1318.40 675.68 1320.40 679.18C1322.40 682.67 1324.40 686.12 1326.40 689.51C1328.40 692.90 1330.40 696.30 1332.40 699.51C1334.40 702.71 1336.40 705.86 1338.40 708.74C1340.40 711.62 1342.40 714.27 1344.40 716.81C1346.40 719.35 1348.40 721.71 1350.40 723.97C1352.40 726.24 1354.40 728.41 1356.40 730.40C1358.40 732.39 1360.40 734.21 1362.40 735.90C1364.40 737.59 1366.40 739.14 1368.40 740.54C1370.40 741.94 1372.40 743.20 1374.40 744.31C1376.40 745.41 1378.40 746.33 1380.40 747.17C1382.40 748.00 1384.40 748.71 1386.40 749.32C1388.40 749.93 1390.40 750.44 1392.40 750.84C1394.40 751.24 1396.40 751.54 1398.40 751.73C1400.40 751.92 1402.40 752.03 1404.40 751.99C1406.40 751.94 1408.40 751.76 1410.40 751.46C1412.40 751.16 1414.40 750.71 1416.40 750.17C1418.40 749.64 1420.40 748.96 1422.40 748.23C1424.40 747.51 1426.40 746.70 1428.40 745.83C1430.40 744.97 1432.40 744.05 1434.40 743.03C1436.40 742.01 1438.40 740.93 1440.40 739.72C1442.40 738.51 1444.40 737.21 1446.40 735.78C1448.40 734.35 1450.40 732.78 1452.40 731.14C1454.40 729.50 1456.40 727.75 1458.40 725.94C1460.40 724.13 1462.40 722.24 1464.40 720.29C1466.40 718.34 1468.40 716.32 1470.40 714.24C1472.40 712.16 1474.40 710.01 1476.40 707.82C1478.40 705.62 1480.40 703.37 1482.40 701.09C1484.40 698.80 1486.40 696.46 1488.40 694.08C1490.40 691.71 1492.40 689.28 1494.40 686.81C1496.40 684.35 1498.40 681.85 1500.40 679.31C1502.40 676.77 1504.40 674.21 1506.40 671.58C1508.40 668.95 1510.40 666.26 1512.40 663.54C1514.40 660.82 1516.40 658.02 1518.40 655.26C1520.40 652.51 1522.40 649.71 1524.40 647.02C1526.40 644.33 1528.40 641.65 1530.40 639.12C1532.40 636.60 1534.40 634.20 1536.40 631.88C1538.40 629.55 1540.40 627.33 1542.40 625.16C1544.40 622.98 1546.40 620.85 1548.40 618.83C1550.40 616.81 1552.40 614.91 1554.40 613.04C1556.40 611.17 1558.40 609.36 1560.40 607.61C1562.40 605.86 1564.40 604.14 1566.40 602.56C1568.40 600.97 1570.40 599.51 1572.40 598.09C1574.40 596.67 1576.40 595.29 1578.40 594.04C1580.40 592.80 1582.40 591.62 1584.40 590.60C1586.40 589.57 1588.40 588.71 1590.40 587.90C1592.40 587.09 1594.40 586.35 1596.40 585.74C1598.40 585.13 1600.40 584.62 1602.40 584.22C1604.40 583.83 1606.40 583.57 1608.40 583.36C1610.40 583.14 1612.40 583.01 1614.40 582.92C1616.40 582.83 1618.40 582.82 1620.40 582.80C1622.40 582.78 1624.40 582.80 1626.40 582.80C1628.40 582.80 1630.40 582.80 1632.40 582.80C1634.40 582.80 1636.40 582.80 1638.40 582.80C1640.40 582.80 1642.40 582.80 1644.40 582.80C1646.40 582.80 1648.40 582.80 1650.40 582.80C1652.40 582.80 1654.40 582.80 1656.40 582.80C1658.40 582.80 1660.40 582.80 1662.40 582.80C1664.40 582.80 1666.40 582.80 1668.40 582.80C1670.40 582.80 1672.40 582.80 1674.40 582.80C1676.40 582.80 1678.40 582.80 1680.40 582.80C1682.40 582.80 1684.40 582.80 1686.40 582.80C1688.40 582.80 1690.40 582.80 1692.40 582.80C1694.40 582.80 1696.50 582.80 1698.40 582.80C1700.30 582.80 1702.90 582.80 1703.80 582.80L1703.8 794.5L1146.4 794.5Z" fill="url(#gG)"/>
<path d="M1146.40 681.00C1147.40 680.00 1150.40 676.99 1152.40 675.01C1154.40 673.04 1156.40 671.04 1158.40 669.16C1160.40 667.28 1162.40 665.45 1164.40 663.72C1166.40 662.00 1168.40 660.35 1170.40 658.80C1172.40 657.25 1174.40 655.77 1176.40 654.43C1178.40 653.09 1180.40 651.86 1182.40 650.76C1184.40 649.66 1186.40 648.72 1188.40 647.85C1190.40 646.99 1192.40 646.22 1194.40 645.58C1196.40 644.93 1198.40 644.40 1200.40 643.99C1202.40 643.58 1204.40 643.26 1206.40 643.13C1208.40 643.00 1210.40 642.93 1212.40 643.21C1214.40 643.49 1216.40 644.06 1218.40 644.82C1220.40 645.59 1222.40 646.69 1224.40 647.81C1226.40 648.94 1228.40 650.27 1230.40 651.58C1232.40 652.89 1234.40 654.35 1236.40 655.66C1238.40 656.98 1240.40 658.30 1242.40 659.46C1244.40 660.61 1246.40 661.63 1248.40 662.59C1250.40 663.54 1252.40 664.36 1254.40 665.20C1256.40 666.05 1258.40 666.85 1260.40 667.64C1262.40 668.42 1264.40 669.21 1266.40 669.92C1268.40 670.63 1270.40 671.28 1272.40 671.92C1274.40 672.55 1276.40 673.16 1278.40 673.75C1280.40 674.33 1282.40 674.91 1284.40 675.42C1286.40 675.92 1288.40 676.37 1290.40 676.77C1292.40 677.17 1294.40 677.51 1296.40 677.82C1298.40 678.12 1300.40 678.36 1302.40 678.60C1304.40 678.83 1306.40 679.04 1308.40 679.22C1310.40 679.41 1312.40 679.58 1314.40 679.71C1316.40 679.84 1318.40 679.92 1320.40 680.01C1322.40 680.10 1324.40 680.17 1326.40 680.25C1328.40 680.32 1330.40 680.40 1332.40 680.48C1334.40 680.55 1336.40 680.63 1338.40 680.69C1340.40 680.76 1342.40 680.82 1344.40 680.87C1346.40 680.93 1348.40 681.03 1350.40 681.03C1352.40 681.04 1354.40 681.08 1356.40 680.92C1358.40 680.76 1360.40 680.49 1362.40 680.08C1364.40 679.66 1366.40 679.12 1368.40 678.42C1370.40 677.71 1372.40 676.85 1374.40 675.83C1376.40 674.80 1378.40 673.54 1380.40 672.26C1382.40 670.99 1384.40 669.59 1386.40 668.18C1388.40 666.76 1390.40 665.33 1392.40 663.77C1394.40 662.21 1396.40 660.57 1398.40 658.83C1400.40 657.09 1402.40 655.25 1404.40 653.32C1406.40 651.40 1408.40 649.36 1410.40 647.29C1412.40 645.21 1414.40 643.02 1416.40 640.86C1418.40 638.70 1420.40 636.49 1422.40 634.31C1424.40 632.12 1426.40 629.94 1428.40 627.75C1430.40 625.57 1432.40 623.39 1434.40 621.21C1436.40 619.04 1438.40 616.82 1440.40 614.68C1442.40 612.55 1444.40 610.40 1446.40 608.39C1448.40 606.38 1450.40 604.48 1452.40 602.60C1454.40 600.72 1456.40 598.89 1458.40 597.10C1460.40 595.32 1462.40 593.52 1464.40 591.90C1466.40 590.29 1468.40 588.77 1470.40 587.41C1472.40 586.05 1474.40 584.82 1476.40 583.75C1478.40 582.68 1480.40 581.76 1482.40 581.01C1484.40 580.25 1486.40 579.68 1488.40 579.21C1490.40 578.74 1492.40 578.41 1494.40 578.18C1496.40 577.94 1498.40 577.84 1500.40 577.80C1502.40 577.75 1504.40 577.83 1506.40 577.93C1508.40 578.03 1510.40 578.17 1512.40 578.39C1514.40 578.61 1516.40 578.87 1518.40 579.24C1520.40 579.60 1522.40 580.06 1524.40 580.58C1526.40 581.10 1528.40 581.68 1530.40 582.36C1532.40 583.03 1534.40 583.80 1536.40 584.61C1538.40 585.42 1540.40 586.32 1542.40 587.23C1544.40 588.14 1546.40 589.07 1548.40 590.06C1550.40 591.05 1552.40 592.11 1554.40 593.17C1556.40 594.23 1558.40 595.34 1560.40 596.45C1562.40 597.56 1564.40 598.68 1566.40 599.83C1568.40 600.99 1570.40 602.19 1572.40 603.38C1574.40 604.56 1576.40 605.79 1578.40 606.96C1580.40 608.14 1582.40 609.31 1584.40 610.45C1586.40 611.59 1588.40 612.72 1590.40 613.81C1592.40 614.91 1594.40 615.99 1596.40 617.01C1598.40 618.03 1600.40 618.99 1602.40 619.92C1604.40 620.84 1606.40 621.74 1608.40 622.56C1610.40 623.39 1612.40 624.20 1614.40 624.86C1616.40 625.53 1618.40 626.09 1620.40 626.57C1622.40 627.05 1624.40 627.43 1626.40 627.76C1628.40 628.09 1630.40 628.33 1632.40 628.53C1634.40 628.72 1636.40 628.83 1638.40 628.92C1640.40 629.01 1642.40 629.04 1644.40 629.07C1646.40 629.10 1648.40 629.09 1650.40 629.10C1652.40 629.11 1654.40 629.10 1656.40 629.10C1658.40 629.10 1660.40 629.10 1662.40 629.10C1664.40 629.10 1666.40 629.10 1668.40 629.10C1670.40 629.10 1672.40 629.10 1674.40 629.10C1676.40 629.10 1678.40 629.10 1680.40 629.10C1682.40 629.10 1684.40 629.10 1686.40 629.10C1688.40 629.10 1690.40 629.10 1692.40 629.10C1694.40 629.10 1696.50 629.10 1698.40 629.10C1700.30 629.10 1702.90 629.10 1703.80 629.10" fill="none" stroke="#3366ff" stroke-width="4.1" stroke-linejoin="round"/>
<path d="M1146.40 749.50C1147.40 745.29 1150.40 732.54 1152.40 724.21C1154.40 715.88 1156.40 707.40 1158.40 699.54C1160.40 691.68 1162.40 684.12 1164.40 677.03C1166.40 669.94 1168.40 663.26 1170.40 657.02C1172.40 650.78 1174.40 644.94 1176.40 639.59C1178.40 634.23 1180.40 629.51 1182.40 624.88C1184.40 620.25 1186.40 615.97 1188.40 611.81C1190.40 607.64 1192.40 603.57 1194.40 599.90C1196.40 596.23 1198.40 592.84 1200.40 589.78C1202.40 586.71 1204.40 583.99 1206.40 581.50C1208.40 579.01 1210.40 576.82 1212.40 574.85C1214.40 572.87 1216.40 571.15 1218.40 569.68C1220.40 568.21 1222.40 566.98 1224.40 566.04C1226.40 565.10 1228.40 564.46 1230.40 564.04C1232.40 563.63 1234.40 563.46 1236.40 563.55C1238.40 563.63 1240.40 563.91 1242.40 564.55C1244.40 565.20 1246.40 566.18 1248.40 567.42C1250.40 568.67 1252.40 570.29 1254.40 572.04C1256.40 573.79 1258.40 575.77 1260.40 577.94C1262.40 580.10 1264.40 582.47 1266.40 585.03C1268.40 587.60 1270.40 590.39 1272.40 593.32C1274.40 596.25 1276.40 599.36 1278.40 602.61C1280.40 605.85 1282.40 609.28 1284.40 612.79C1286.40 616.29 1288.40 619.94 1290.40 623.61C1292.40 627.29 1294.40 631.05 1296.40 634.82C1298.40 638.59 1300.40 642.44 1302.40 646.23C1304.40 650.02 1306.40 653.84 1308.40 657.56C1310.40 661.28 1312.40 664.96 1314.40 668.56C1316.40 672.16 1318.40 675.68 1320.40 679.18C1322.40 682.67 1324.40 686.12 1326.40 689.51C1328.40 692.90 1330.40 696.30 1332.40 699.51C1334.40 702.71 1336.40 705.86 1338.40 708.74C1340.40 711.62 1342.40 714.27 1344.40 716.81C1346.40 719.35 1348.40 721.71 1350.40 723.97C1352.40 726.24 1354.40 728.41 1356.40 730.40C1358.40 732.39 1360.40 734.21 1362.40 735.90C1364.40 737.59 1366.40 739.14 1368.40 740.54C1370.40 741.94 1372.40 743.20 1374.40 744.31C1376.40 745.41 1378.40 746.33 1380.40 747.17C1382.40 748.00 1384.40 748.71 1386.40 749.32C1388.40 749.93 1390.40 750.44 1392.40 750.84C1394.40 751.24 1396.40 751.54 1398.40 751.73C1400.40 751.92 1402.40 752.03 1404.40 751.99C1406.40 751.94 1408.40 751.76 1410.40 751.46C1412.40 751.16 1414.40 750.71 1416.40 750.17C1418.40 749.64 1420.40 748.96 1422.40 748.23C1424.40 747.51 1426.40 746.70 1428.40 745.83C1430.40 744.97 1432.40 744.05 1434.40 743.03C1436.40 742.01 1438.40 740.93 1440.40 739.72C1442.40 738.51 1444.40 737.21 1446.40 735.78C1448.40 734.35 1450.40 732.78 1452.40 731.14C1454.40 729.50 1456.40 727.75 1458.40 725.94C1460.40 724.13 1462.40 722.24 1464.40 720.29C1466.40 718.34 1468.40 716.32 1470.40 714.24C1472.40 712.16 1474.40 710.01 1476.40 707.82C1478.40 705.62 1480.40 703.37 1482.40 701.09C1484.40 698.80 1486.40 696.46 1488.40 694.08C1490.40 691.71 1492.40 689.28 1494.40 686.81C1496.40 684.35 1498.40 681.85 1500.40 679.31C1502.40 676.77 1504.40 674.21 1506.40 671.58C1508.40 668.95 1510.40 666.26 1512.40 663.54C1514.40 660.82 1516.40 658.02 1518.40 655.26C1520.40 652.51 1522.40 649.71 1524.40 647.02C1526.40 644.33 1528.40 641.65 1530.40 639.12C1532.40 636.60 1534.40 634.20 1536.40 631.88C1538.40 629.55 1540.40 627.33 1542.40 625.16C1544.40 622.98 1546.40 620.85 1548.40 618.83C1550.40 616.81 1552.40 614.91 1554.40 613.04C1556.40 611.17 1558.40 609.36 1560.40 607.61C1562.40 605.86 1564.40 604.14 1566.40 602.56C1568.40 600.97 1570.40 599.51 1572.40 598.09C1574.40 596.67 1576.40 595.29 1578.40 594.04C1580.40 592.80 1582.40 591.62 1584.40 590.60C1586.40 589.57 1588.40 588.71 1590.40 587.90C1592.40 587.09 1594.40 586.35 1596.40 585.74C1598.40 585.13 1600.40 584.62 1602.40 584.22C1604.40 583.83 1606.40 583.57 1608.40 583.36C1610.40 583.14 1612.40 583.01 1614.40 582.92C1616.40 582.83 1618.40 582.82 1620.40 582.80C1622.40 582.78 1624.40 582.80 1626.40 582.80C1628.40 582.80 1630.40 582.80 1632.40 582.80C1634.40 582.80 1636.40 582.80 1638.40 582.80C1640.40 582.80 1642.40 582.80 1644.40 582.80C1646.40 582.80 1648.40 582.80 1650.40 582.80C1652.40 582.80 1654.40 582.80 1656.40 582.80C1658.40 582.80 1660.40 582.80 1662.40 582.80C1664.40 582.80 1666.40 582.80 1668.40 582.80C1670.40 582.80 1672.40 582.80 1674.40 582.80C1676.40 582.80 1678.40 582.80 1680.40 582.80C1682.40 582.80 1684.40 582.80 1686.40 582.80C1688.40 582.80 1690.40 582.80 1692.40 582.80C1694.40 582.80 1696.50 582.80 1698.40 582.80C1700.30 582.80 1702.90 582.80 1703.80 582.80" fill="none" stroke="url(#gGl)" stroke-width="4.1" stroke-linejoin="round"/>
</g>
<rect x="1145.9" y="794" width="557.9" height="1" fill="#e4e9f2"/>
</svg>
<div style="left:609px;top:942px;width:497px;height:120px;background:#f7f9fc"></div>
<svg width="2084" height="1267" viewBox="0 0 2084 1267" style="left:0;top:0"><defs><clipPath id="cMap"><rect x="609" y="942" width="497" height="120"/></clipPath></defs><g clip-path="url(#cMap)">
<polygon points="656.4,985.2 668.6,989.9 674.9,985.5 678.0,986.2 688.6,981.4 690.5,983.0 693.0,978.4 699.2,985.5 703.6,981.4 704.2,986.2 707.9,983.0 724.8,991.1 729.8,991.8 734.1,996.1 730.4,999.3 742.2,999.9 744.7,998.0 747.8,1002.4 749.7,999.9 747.2,996.1 749.7,993.0 754.7,992.4 760.9,997.4 763.4,996.8 769.1,1000.5 777.2,999.9 777.8,994.9 780.3,993.9 784.7,996.1 785.3,1002.4 786.5,997.4 789.0,996.8 789.6,989.9 784.0,976.2 784.0,968.7 787.8,965.6 792.1,968.1 796.5,976.2 798.4,981.8 795.3,984.9 799.6,986.2 800.9,993.0 804.6,988.6 807.7,993.6 810.2,1003.6 814.0,993.6 814.6,984.3 817.1,983.7 825.8,987.4 827.7,993.6 825.8,1001.1 827.7,1005.5 824.0,1009.2 819.0,1011.7 814.6,1009.9 810.9,1019.8 804.6,1026.1 800.2,1029.8 799.6,1034.8 792.8,1039.8 790.3,1047.3 789.6,1059.8 656.4,1059.8" fill="#edf1f7" stroke="#e6eaf3" stroke-width="0.6" stroke-linejoin="round"/>
<polygon points="702.3,942.5 723.5,942.5 728.5,950.6 719.8,959.3 715.4,967.4 714.2,970.6 707.3,975.2 699.2,965.6 703.6,948.7" fill="#edf1f7" stroke="#e6eaf3" stroke-width="0.6" stroke-linejoin="round"/>
<polygon points="717.9,967.4 721.6,959.3 729.8,952.5 732.9,953.7 732.3,957.5 737.2,956.0 741.6,958.7 744.7,956.0 747.8,959.3 749.7,964.9 749.1,954.3 754.1,953.1 756.6,956.8 758.5,961.8 760.9,973.7 770.9,981.8 767.2,987.4 767.8,990.5 765.9,992.4 751.6,990.5 735.4,994.3 731.0,989.9 727.3,989.3 723.5,983.7 729.8,980.5 737.2,979.3 732.3,978.0 721.6,978.7 720.4,974.9 724.8,971.8 717.9,969.3" fill="#edf1f7" stroke="#e6eaf3" stroke-width="0.6" stroke-linejoin="round"/>
<polygon points="754.1,948.7 759.1,948.5 760.9,951.2 758.5,956.2 756.0,955.0 754.7,951.8" fill="#edf1f7" stroke="#e6eaf3" stroke-width="0.6" stroke-linejoin="round"/>
<polygon points="769.1,950.6 772.8,946.9 777.2,948.1 781.5,947.5 782.2,950.6 780.3,953.7 783.4,957.5 783.4,966.2 779.7,970.6 775.3,971.8 773.4,966.8 765.3,959.3 767.8,957.2 770.3,957.5 768.4,953.1" fill="#edf1f7" stroke="#e6eaf3" stroke-width="0.6" stroke-linejoin="round"/>
<polygon points="785.3,948.7 788.4,944.4 792.8,943.1 797.1,943.7 801.1,946.9 795.9,955.0 792.8,957.5 789.6,964.3 786.5,964.9 784.7,953.7" fill="#edf1f7" stroke="#e6eaf3" stroke-width="0.6" stroke-linejoin="round"/>
<polygon points="802.1,953.7 805.9,948.7 814.0,946.9 814.6,956.2 816.5,952.5 824.6,948.1 827.1,951.2 830.2,961.8 837.1,958.7 842.0,960.0 847.7,966.2 848.3,970.6 853.3,969.3 855.8,972.4 860.0,974.9 853.8,969.3 855.6,973.7 865.6,980.5 868.7,989.3 863.1,993.4 870.0,998.4 874.4,999.3 879.4,1006.1 883.1,1006.4 881.8,1012.4 876.2,1019.8 868.7,1011.1 865.6,1014.9 873.1,1024.8 875.0,1031.1 873.1,1034.8 862.5,1029.2 870.6,1039.8 862.5,1038.6 853.8,1032.3 860.0,1034.8 853.3,1029.8 854.5,1024.8 846.4,1022.3 845.2,1024.2 837.7,1025.5 835.2,1021.1 837.7,1017.3 847.7,1016.1 850.8,1001.1 842.0,992.4 840.2,988.6 837.1,983.7 833.3,982.4 827.1,984.3 819.6,983.0 804.6,977.4 802.7,973.7 800.9,963.7" fill="#edf1f7" stroke="#e6eaf3" stroke-width="0.6" stroke-linejoin="round"/>
<polygon points="828.3,948.1 835.2,948.1 841.4,953.7 841.4,956.2 833.3,958.1 828.9,952.5" fill="#edf1f7" stroke="#e6eaf3" stroke-width="0.6" stroke-linejoin="round"/>
<polygon points="774.0,986.8 779.0,981.2 785.9,988.6 784.0,992.4 777.2,990.5" fill="#edf1f7" stroke="#e6eaf3" stroke-width="0.6" stroke-linejoin="round"/>
<polygon points="838.3,999.3 840.8,996.8 843.9,996.1 845.2,999.9 842.7,1004.2 838.9,1005.5" fill="#edf1f7" stroke="#e6eaf3" stroke-width="0.6" stroke-linejoin="round"/>
<polygon points="810.9,1028.6 814.6,1014.9 819.6,1018.0 824.6,1022.3 830.2,1028.6 828.3,1030.4 823.3,1028.0 817.7,1029.8 814.6,1032.3" fill="#edf1f7" stroke="#e6eaf3" stroke-width="0.6" stroke-linejoin="round"/>
<polygon points="819.0,1036.1 821.5,1033.6 825.8,1033.6 823.3,1037.9 820.2,1038.6" fill="#edf1f7" stroke="#e6eaf3" stroke-width="0.6" stroke-linejoin="round"/>
<polygon points="829.3,1039.2 832.7,1036.3 833.9,1038.6 831.4,1041.7" fill="#edf1f7" stroke="#e6eaf3" stroke-width="0.6" stroke-linejoin="round"/>
<polygon points="836.4,1035.4 847.7,1037.9 849.5,1036.7 855.8,1043.5 855.0,1043.5 860.6,1044.8 861.9,1059.8 837.7,1059.8 836.4,1047.3" fill="#edf1f7" stroke="#e6eaf3" stroke-width="0.6" stroke-linejoin="round"/>
<polygon points="871.2,1059.8 874.6,1048.3 878.1,1059.8" fill="#edf1f7" stroke="#e6eaf3" stroke-width="0.6" stroke-linejoin="round"/>
<polygon points="896.8,941.9 1005.3,941.9 1000.3,943.5 1002.2,946.9 1001.0,950.6 993.5,951.8 997.0,958.7 996.6,963.1 990.4,960.6 995.4,965.6 997.8,972.4 997.8,977.4 992.2,978.0 987.2,971.2 987.9,976.8 985.4,979.9 996.0,981.2 980.4,994.3 969.8,996.8 962.9,1007.4 956.1,1013.0 946.1,1016.1 943.0,1022.3 942.3,1029.2 938.0,1034.2 938.8,1039.2 936.3,1050.4 931.7,1050.8 926.7,1045.8 921.7,1045.4 918.0,1041.1 911.1,1028.0 909.3,1019.8 905.5,1013.0 906.8,1008.6 904.5,1003.6 907.4,996.1 912.4,992.4 913.6,985.5 907.1,988.4 902.4,985.5 903.4,975.2 912.1,976.8 904.6,970.6 899.7,968.4 902.2,958.7" fill="#edf1f7" stroke="#e6eaf3" stroke-width="0.6" stroke-linejoin="round"/>
<polygon points="989.7,1014.9 992.2,1010.5 996.6,1009.9 1000.3,1013.9 1005.3,1011.1 1008.5,1013.0 1014.1,1009.2 1019.1,1009.2 1019.1,1014.9 1021.2,1019.6 1017.2,1024.8 1006.6,1029.8 994.7,1027.1 996.6,1023.6 991.2,1020.7 996.0,1018.8 995.4,1016.7" fill="#edf1f7" stroke="#e6eaf3" stroke-width="0.6" stroke-linejoin="round"/>
<polygon points="1074.0,1039.2 1090.2,1023.6 1098.3,1007.4 1106.0,994.9 1112.0,994.9 1112.0,1059.8 1075.2,1059.8" fill="#edf1f7" stroke="#e6eaf3" stroke-width="0.6" stroke-linejoin="round"/>
<polygon points="607.5,971.2 611.9,969.7 615.0,971.4 617.5,975.2 623.1,974.9 625.6,978.0 629.9,978.0 644.3,982.2 648.7,981.2 656.4,985.2 656.4,1047.9 661.1,1050.4 664.9,1055.8 666.1,1059.8 661.1,1059.8 659.9,1055.8 656.8,1052.3 641.2,1048.3 638.1,1045.4 635.6,1047.9 635.6,1050.8 624.3,1055.8 625.6,1047.3 628.9,1044.5 625.0,1046.0 619.3,1055.8 618.7,1059.8 607.5,1059.8" fill="#598bff" stroke="#4d7ffa" stroke-width="0.8" stroke-linejoin="round"/>
<polygon points="666.1,1059.8 667.4,1055.8 671.7,1052.3 674.9,1055.8 676.1,1059.8" fill="#598bff" stroke="#4d7ffa" stroke-width="0.8" stroke-linejoin="round"/>
</g></svg>
<div id="header"></div>
<div style="left:383px;top:180px;width:1px;height:21px;background:#edf1f7"></div>
<div style="left:572px;top:170px;width:97px;height:41px;background:#f7f9fc;border:1px solid #4675ff;border-radius:4px;box-shadow:0 0 0 1px rgba(51,102,255,.22)"></div>
<div style="left:1452px;top:178px;width:1px;height:25px;background:#edf1f7"></div>
<div style="left:1518px;top:178px;width:1px;height:25px;background:#edf1f7"></div>
<div style="left:1583px;top:170px;width:1px;height:40px;background:#edf1f7"></div>
<svg viewBox="0 0 24 24" width="28.30" height="28.30" style="left:334.35px;top:176.45px;color:#8f9bb3" fill="currentColor"><circle cx="4" cy="12" r="1"/><rect x="7" y="11" width="14" height="2" rx=".94"/><rect x="3" y="16" width="18" height="2" rx=".94"/><rect x="3" y="6" width="18" height="2" rx=".94"/></svg>
<svg viewBox="0 0 24 24" width="24.30" height="24.30" style="left:1407.65px;top:178.25px;color:#8f9bb3" fill="currentColor"><path d="M20.71 19.29l-3.4-3.39A7.92 7.92 0 0 0 19 11a8 8 0 1 0-8 8 7.92 7.92 0 0 0 4.9-1.69l3.39 3.4a1 1 0 0 0 1.42 0 1 1 0 0 0 0-1.42zM5 11a6 6 0 1 1 6 6 6 6 0 0 1-6-6z"/></svg>
<svg viewBox="0 0 24 24" width="24.30" height="24.30" style="left:1473.35px;top:178.15px;color:#8f9bb3" fill="currentColor"><path d="M19 4H5a3 3 0 0 0-3 3v10a3 3 0 0 0 3 3h14a3 3 0 0 0 3-3V7a3 3 0 0 0-3-3zm-.67 2L12 10.75 5.67 6zM19 18H5a1 1 0 0 1-1-1V7.25l7.4 5.55a1 1 0 0 0 .6.2 1 1 0 0 0 .6-.2L20 7.25V17a1 1 0 0 1-1 1z"/></svg>
<svg viewBox="0 0 24 24" width="24.30" height="24.30" style="left:1538.95px;top:178.25px;color:#8f9bb3" fill="currentColor"><path d="M20.52 15.21l-1.8-1.81V8.94a6.86 6.86 0 0 0-5.82-6.88 6.74 6.74 0 0 0-7.62 6.67v4.67l-1.8 1.81A1.64 1.64 0 0 0 4.64 18H8v.34A3.84 3.84 0 0 0 12 22a3.84 3.84 0 0 0 4-3.66V18h3.36a1.64 1.64 0 0 0 1.16-2.79zM14 18.34A1.88 1.88 0 0 1 12 20a1.88 1.88 0 0 1-2-1.66V18h4zM5.51 16l1.18-1.18a2 2 0 0 0 .59-1.42V8.73A4.73 4.73 0 0 1 8.9 5.17 4.67 4.67 0 0 1 12.64 4a4.86 4.86 0 0 1 4.08 4.9v4.5a2 2 0 0 0 .58 1.42L18.49 16z"/></svg>
<svg viewBox="0 0 24 24" width="21.50" height="21.50" style="left:641.15px;top:180.25px;color:#222b45" fill="currentColor"><path d="M12 15.5a1 1 0 0 1-.71-.29l-4-4a1 1 0 1 1 1.42-1.42L12 13.1l3.3-3.18a1 1 0 1 1 1.38 1.44l-4 3.86a1 1 0 0 1-.68.28z"/></svg>
<svg viewBox="0 0 40 40" width="40" height="40" style="left:1604.2px;top:170.2px">
<defs><clipPath id="av"><circle cx="20" cy="20" r="19.7"/></clipPath>
<linearGradient id="avb" x1="0" y1="0" x2="1" y2="0"><stop offset="0" stop-color="#fdfeff"/><stop offset=".7" stop-color="#f4f8fc"/><stop offset="1" stop-color="#dfeaf6"/></linearGradient></defs>
<g clip-path="url(#av)">
<rect width="40" height="40" fill="url(#avb)"/>
<rect x="30.5" y="4" width="3" height="22" fill="#e3edf8"/>
<rect x="33.5" y="6" width="3.2" height="19" fill="#6b9bd2"/>
<rect x="36.7" y="8" width="4" height="18" fill="#a5c3e6"/>
<path d="M5 41c.5-6 3-9.500 9-11.500l6-2.500 7-1c5 .5 10 4 11.500 8l1 7z" fill="#2fa4e2"/>
<path d="M25.500 19.500c2-2.300 6-2.300 8.500.5l2 3.500-2.500-.5c-2-2.500-5-3-7-1.500z" fill="#1f2a44"/>
<path d="M26 22c3-1 7 0 8.500 3l-1 3 .5 8-4 3.500-3.500.5-.5-10z" fill="#232a40"/>
<path d="M8.500 38l.8-7 4.200-3 1.500.5-1 8.500-1 3.500z" fill="#232a40"/>
<path d="M9.800 31.500l3 4.500-.6 1.600-2.900-4.500z" fill="#f2f4f8"/>
<path d="M32.500 29l-3.600 6.500.5 1.600 3.600-6.500z" fill="#f2f4f8"/>
<path d="M15.500 27.500l1.500-5h8l1.500 4.500-4.500 4z" fill="#c27a50"/>
<path d="M14.800 28l2-1.500 4.700 3 5-3.500 1 2-5.500 4.500z" fill="#16171d"/>
<ellipse cx="19.200" cy="16.300" rx="7.100" ry="8.700" fill="#d59674"/>
<ellipse cx="18.500" cy="15" rx="4" ry="3.500" fill="#e7b397" opacity=".6"/>
<ellipse cx="26.500" cy="15" rx="1.300" ry="2" fill="#c98a66"/>
<path d="M11.700 14.500c-1-5.500 2-10 7.800-10.300 5.500-.2 8.500 4 7.200 9.800l-1.200-.5c-.3-2.300-1.200-3.800-2.800-4.500-3 .6-6 .5-8.300-.2-1 1-1.700 3-1.900 5.500z" fill="#19181d"/>
<path d="M14.300 13.300h3.600v1h-3.600zM20.300 13.300h3.600v1h-3.600z" fill="#6a4030" opacity=".85"/>
<path d="M15 18.800c2 1.500 6 1.500 8.500 0-.5 2.300-2.200 3.300-4.200 3.300s-3.700-1-4.300-3.300z" fill="#fff"/>
<path d="M14.600 18.500c2.500 1 6.500 1 9.300 0" fill="none" stroke="#9a5a40" stroke-width=".6"/>
</g>
<circle cx="20" cy="20" r="19.500" fill="none" stroke="#e6ecf5" stroke-width=".8"/>
</svg>
<span class="t" style="left:403.36px;top:177px;font-size:29.68px;color:#222b45;transform:scaleX(1.0197);">ngx-admin</span>
<span class="t" style="left:590.73px;top:185px;font-size:13.78px;color:#222b45;transform:scaleX(1.0724);-webkit-text-stroke:0.38px #222b45;">Light</span>
<span class="t" style="left:1652.33px;top:184px;font-size:15.9px;color:#222b45;transform:scaleX(0.9395);">Nick Jones</span>
<span class="t" style="left:362.80px;top:283px;font-size:13.78px;color:#3366ff;-webkit-text-stroke:0.38px #3366ff;">E-commerce</span>
<span class="t" style="left:362.78px;top:332px;font-size:13.78px;color:#222b45;transform:scaleX(1.0191);-webkit-text-stroke:0.38px #222b45;">IoT Dashboard</span>
<span class="t" style="left:330.13px;top:381px;font-size:13.78px;color:#8f9bb3;transform:scaleX(0.8704);-webkit-text-stroke:0.35px #8f9bb3;">FEATURES</span>
<span class="t" style="left:362.76px;top:431px;font-size:13.78px;color:#222b45;transform:scaleX(1.0395);-webkit-text-stroke:0.38px #222b45;">Layout</span>
<span class="t" style="left:362.79px;top:480px;font-size:13.78px;color:#222b45;transform:scaleX(1.0093);-webkit-text-stroke:0.38px #222b45;">Forms</span>
<span class="t" style="left:363.05px;top:530px;font-size:13.78px;color:#222b45;-webkit-text-stroke:0.38px #222b45;">UI Features</span>
<span class="t" style="left:362.78px;top:579px;font-size:13.78px;color:#222b45;transform:scaleX(1.0238);-webkit-text-stroke:0.38px #222b45;">Modal &amp; Overlays</span>
<span class="t" style="left:362.77px;top:629px;font-size:13.78px;color:#222b45;transform:scaleX(1.0262);-webkit-text-stroke:0.38px #222b45;">Extra Components</span>
<span class="t" style="left:362.78px;top:678px;font-size:13.78px;color:#222b45;transform:scaleX(1.0233);-webkit-text-stroke:0.38px #222b45;">Maps</span>
<span class="t" style="left:363.30px;top:727px;font-size:13.78px;color:#222b45;transform:scaleX(1.0038);-webkit-text-stroke:0.38px #222b45;">Charts</span>
<span class="t" style="left:362.76px;top:777px;font-size:13.78px;color:#222b45;transform:scaleX(1.0361);-webkit-text-stroke:0.38px #222b45;">Editors</span>
<span class="t" style="left:363.80px;top:826px;font-size:13.78px;color:#222b45;-webkit-text-stroke:0.38px #222b45;">Tables &amp; Data</span>
<span class="t" style="left:362.77px;top:875px;font-size:13.78px;color:#222b45;transform:scaleX(1.0302);-webkit-text-stroke:0.38px #222b45;">Miscellaneous</span>
<span class="t" style="left:364.06px;top:925px;font-size:13.78px;color:#222b45;transform:scaleX(1.0321);-webkit-text-stroke:0.38px #222b45;">Auth</span>
<span class="t" style="left:628.40px;top:285px;font-size:16.43px;color:#222b45;-webkit-text-stroke:0.38px #222b45;">$</span>
<span class="t" style="left:645.50px;top:286px;font-size:15.9px;color:#222b45;transform:scaleX(1.1034);-webkit-text-stroke:0.38px #222b45;">Profit</span>
<span class="t" style="left:658.15px;top:328px;font-size:12.2px;color:#3a4259;">transactions</span>
<span class="t" style="left:753.20px;top:328px;font-size:12.2px;color:#3a4259;">orders</span>
<span class="t" style="left:885.92px;top:288px;font-size:13.78px;color:#222b45;transform:scaleX(1.0767);-webkit-text-stroke:0.38px #222b45;">Bitcoin</span>
<span class="t" style="left:862.76px;top:342px;font-size:15.9px;color:#222b45;transform:scaleX(0.9956);">Daily Income</span>
<span class="t" style="left:863.76px;top:361px;font-size:19.08px;color:#222b45;font-weight:700;transform:scaleX(0.9687);">45,895</span>
<span class="t" style="left:1018.67px;top:343px;font-size:15.9px;color:#222b45;transform:scaleX(0.9169);">4%</span>
<span class="t" style="left:628.83px;top:534px;font-size:15.9px;color:#222b45;transform:scaleX(1.0643);-webkit-text-stroke:0.38px #222b45;">Traffic</span>
<span class="t" style="left:914.05px;top:535px;font-size:13.78px;color:#222b45;transform:scaleX(1.0076);-webkit-text-stroke:0.38px #222b45;">week</span>
<span class="t" style="left:623.86px;top:589px;font-size:15.9px;color:#222b45;transform:scaleX(1.0748);">Mon</span>
<span class="t" style="left:726.63px;top:589px;font-size:15.9px;color:#222b45;transform:scaleX(1.0163);">173</span>
<span class="t" style="left:849.09px;top:589px;font-size:15.9px;color:#ff3d71;transform:scaleX(0.9667);">14%</span>
<span class="t" style="left:931.65px;top:593px;font-size:12.72px;color:#8f9bb3;transform:scaleX(0.9952);">Sun</span>
<span class="t" style="left:1008.22px;top:593px;font-size:12.72px;color:#8f9bb3;transform:scaleX(1.0826);">Mon</span>
<span class="t" style="left:624.96px;top:643px;font-size:15.9px;color:#222b45;transform:scaleX(0.9786);">Tue</span>
<span class="t" style="left:726.75px;top:643px;font-size:15.9px;color:#222b45;">604</span>
<span class="t" style="left:849.59px;top:643px;font-size:15.9px;color:#00d68f;transform:scaleX(0.9508);">31%</span>
<span class="t" style="left:931.32px;top:646px;font-size:12.72px;color:#8f9bb3;transform:scaleX(1.0783);">Mon</span>
<span class="t" style="left:1009.06px;top:646px;font-size:12.72px;color:#8f9bb3;transform:scaleX(0.9783);">Tue</span>
<span class="t" style="left:624.95px;top:696px;font-size:15.9px;color:#222b45;transform:scaleX(0.9824);">Wed</span>
<span class="t" style="left:726.44px;top:696px;font-size:15.9px;color:#222b45;transform:scaleX(1.0121);">54</span>
<span class="t" style="left:849.59px;top:696px;font-size:15.9px;color:#ff3d71;transform:scaleX(0.9508);">60%</span>
<span class="t" style="left:932.16px;top:699px;font-size:12.72px;color:#8f9bb3;transform:scaleX(0.9735);">Tue</span>
<span class="t" style="left:1009.30px;top:699px;font-size:12.72px;color:#8f9bb3;transform:scaleX(0.9743);">Wed</span>
<span class="t" style="left:624.95px;top:749px;font-size:15.9px;color:#222b45;transform:scaleX(0.9885);">Thu</span>
<span class="t" style="left:726.45px;top:749px;font-size:15.9px;color:#222b45;">678</span>
<span class="t" style="left:849.59px;top:749px;font-size:15.9px;color:#00d68f;transform:scaleX(0.9508);">73%</span>
<span class="t" style="left:932.40px;top:753px;font-size:12.72px;color:#8f9bb3;transform:scaleX(0.9861);">Wed</span>
<span class="t" style="left:1009.05px;top:753px;font-size:12.72px;color:#8f9bb3;transform:scaleX(1.0072);">Thu</span>
<span class="t" style="left:623.92px;top:803px;font-size:15.9px;color:#222b45;transform:scaleX(1.0215);">Fri</span>
<span class="t" style="left:726.45px;top:803px;font-size:15.9px;color:#222b45;">248</span>
<span class="t" style="left:849.59px;top:803px;font-size:15.9px;color:#ff3d71;transform:scaleX(0.9508);">54%</span>
<span class="t" style="left:932.15px;top:806px;font-size:12.72px;color:#8f9bb3;">Thu</span>
<span class="t" style="left:1008.28px;top:806px;font-size:12.72px;color:#8f9bb3;transform:scaleX(1.0231);">Fri</span>
<span class="t" style="left:1219.56px;top:286px;font-size:14.84px;color:#3366ff;font-weight:700;transform:scaleX(0.8832);">ORDERS</span>
<span class="t" style="left:1540.77px;top:286px;font-size:14.84px;color:#8f9bb3;font-weight:700;transform:scaleX(0.9258);">PROFIT</span>
<span class="t" style="left:1149.62px;top:351px;font-size:15.9px;color:#222b45;transform:scaleX(1.0272);">Marketplace</span>
<span class="t" style="left:1150.41px;top:371px;font-size:19.08px;color:#222b45;font-weight:700;transform:scaleX(0.9796);">3654</span>
<span class="t" style="left:1313.02px;top:351px;font-size:15.9px;color:#222b45;transform:scaleX(1.0269);">Last Month</span>
<span class="t" style="left:1313.56px;top:371px;font-size:19.08px;color:#222b45;font-weight:700;transform:scaleX(0.9836);">946</span>
<span class="t" style="left:1468.29px;top:351px;font-size:15.9px;color:#222b45;transform:scaleX(0.9660);">Last Week</span>
<span class="t" style="left:1468.76px;top:371px;font-size:19.08px;color:#222b45;font-weight:700;transform:scaleX(0.9839);">654</span>
<span class="t" style="left:1616.85px;top:351px;font-size:15.9px;color:#222b45;transform:scaleX(1.0095);">Today</span>
<span class="t" style="left:1616.34px;top:371px;font-size:19.08px;color:#222b45;font-weight:700;transform:scaleX(1.0083);">230</span>
<span class="t" style="left:1177.25px;top:454px;font-size:15.9px;color:#222b45;">Payment</span>
<span class="t" style="left:1282.97px;top:454px;font-size:15.9px;color:#222b45;transform:scaleX(0.9756);">Canceled</span>
<span class="t" style="left:1391.30px;top:454px;font-size:15.9px;color:#222b45;transform:scaleX(1.0090);">All orders</span>
<span class="t" style="left:1590.65px;top:456px;font-size:13.78px;color:#222b45;transform:scaleX(1.0076);-webkit-text-stroke:0.38px #222b45;">week</span>
<span class="t" style="left:1111.30px;top:502px;font-size:16.3px;color:#8f9bb3;">400</span>
<span class="t" style="left:1111.30px;top:572px;font-size:16.3px;color:#8f9bb3;">300</span>
<span class="t" style="left:1111.30px;top:644px;font-size:16.3px;color:#8f9bb3;">200</span>
<span class="t" style="left:1111.30px;top:715px;font-size:16.3px;color:#8f9bb3;">100</span>
<span class="t" style="left:1129.30px;top:786px;font-size:16.3px;color:#8f9bb3;">0</span>
<span class="t" style="left:1130.00px;top:806px;font-size:16.3px;color:#8f9bb3;">Mon</span>
<span class="t" style="left:1214.13px;top:806px;font-size:16.3px;color:#8f9bb3;">Tue</span>
<span class="t" style="left:1293.01px;top:806px;font-size:16.3px;color:#8f9bb3;">Wed</span>
<span class="t" style="left:1377.26px;top:806px;font-size:16.3px;color:#8f9bb3;">Thu</span>
<span class="t" style="left:1462.89px;top:806px;font-size:16.3px;color:#8f9bb3;">Fri</span>
<span class="t" style="left:1541.65px;top:806px;font-size:16.3px;color:#8f9bb3;">Sat</span>
<span class="t" style="left:1621.40px;top:806px;font-size:16.3px;color:#8f9bb3;">Sun</span>
<span class="t" style="left:628.58px;top:906px;font-size:15.9px;color:#222b45;transform:scaleX(1.0327);-webkit-text-stroke:0.38px #222b45;">Country Orders Statistics</span>
<span class="t" style="left:1141.76px;top:964px;font-size:12.72px;color:#8f9bb3;transform:scaleX(0.9925);">Selected Country/Region</span>
<span class="t" style="left:1140.83px;top:981px;font-size:29.15px;color:#192038;font-weight:700;transform:scaleX(0.9557);">United States of</span>
<span class="t" style="left:1141.80px;top:1013px;font-size:29.15px;color:#192038;font-weight:700;transform:scaleX(0.9345);">America</span>
<span class="t" style="left:1488.74px;top:906px;font-size:15.9px;color:#222b45;transform:scaleX(1.0337);-webkit-text-stroke:0.38px #222b45;">Today’s Profit</span>
<span class="t" style="left:1488.02px;top:930px;font-size:31.8px;color:#192038;font-weight:700;transform:scaleX(0.9827);">572,900</span>
<span class="t" style="left:1488.01px;top:1006px;font-size:12.72px;color:#8f9bb3;transform:scaleX(0.9877);">Better than last week (70%)</span>
</div>
</div>
</body></html>
